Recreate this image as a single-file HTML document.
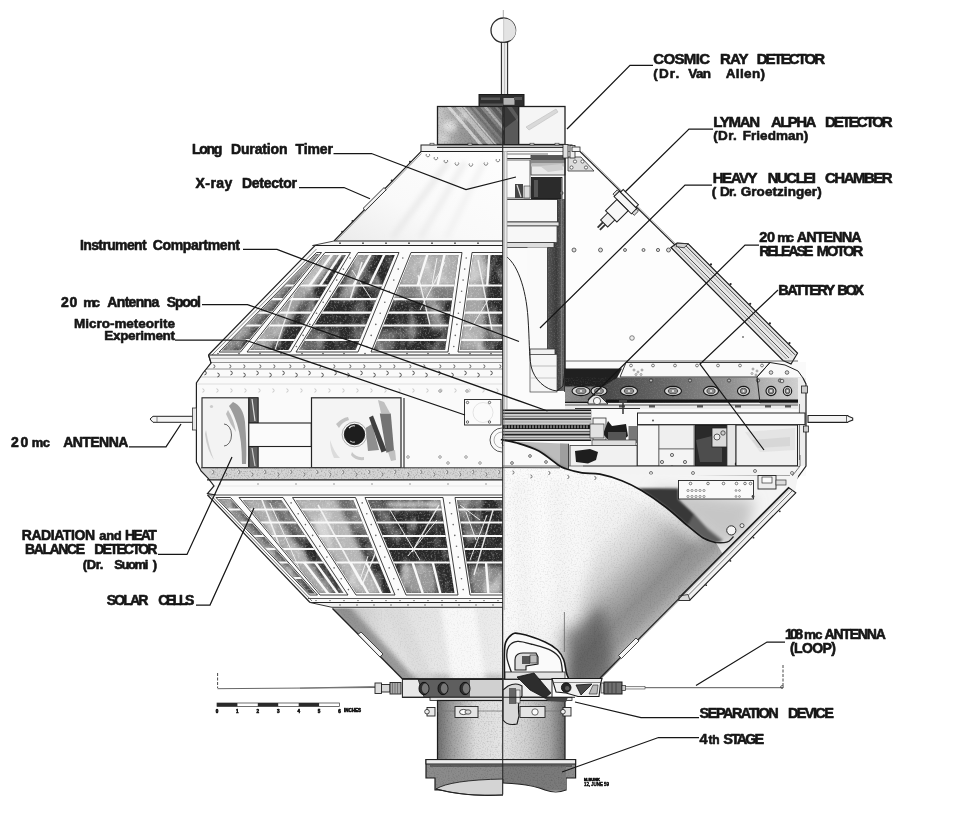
<!DOCTYPE html>
<html><head><meta charset="utf-8"><title>Explorer VII cutaway</title>
<style>
html,body{margin:0;padding:0;background:#fff;}
svg{display:block}
text{font-family:"Liberation Sans",sans-serif;font-weight:700;fill:#161616;stroke:#161616;stroke-width:.6px;stroke-linejoin:round}
</style></head><body>
<svg width="960" height="816" viewBox="0 0 960 816">
<rect width="960" height="816" fill="#fff"/>
<defs>
<linearGradient id="gBoxL" x1="0" y1="0" x2="1" y2="0"><stop offset="0" stop-color="#c9c9c9"/><stop offset="0.35" stop-color="#9a9a9a"/><stop offset="0.7" stop-color="#8a8a8a"/><stop offset="1" stop-color="#777"/></linearGradient>
<linearGradient id="gConeL" x1="0" y1="1" x2="1" y2="0"><stop offset="0" stop-color="#ebebeb"/><stop offset="0.4" stop-color="#f9f9f9"/><stop offset="1" stop-color="#fefefe"/></linearGradient>
<linearGradient id="gLowConeL" x1="0" y1="0" x2="1" y2="0"><stop offset="0" stop-color="#bdbdbd"/><stop offset="0.3" stop-color="#dedede"/><stop offset="0.6" stop-color="#e6e6e6"/><stop offset="1" stop-color="#ececec"/></linearGradient>
<linearGradient id="gSheet" gradientUnits="userSpaceOnUse" x1="560" y1="520" x2="680" y2="640"><stop offset="0" stop-color="#fafafa"/><stop offset="0.25" stop-color="#f0f0f0"/><stop offset="0.42" stop-color="#d2d2d2"/><stop offset="0.55" stop-color="#aaaaaa"/><stop offset="0.66" stop-color="#909090"/><stop offset="0.75" stop-color="#9a9a9a"/><stop offset="0.83" stop-color="#b8b8b8"/></linearGradient>
<linearGradient id="gStage" x1="0" y1="0" x2="1" y2="0"><stop offset="0" stop-color="#6e6e6e"/><stop offset="0.12" stop-color="#a0a0a0"/><stop offset="0.3" stop-color="#dcdcdc"/><stop offset="0.5" stop-color="#e4e4e4"/><stop offset="0.7" stop-color="#cfcfcf"/><stop offset="0.88" stop-color="#a6a6a6"/><stop offset="1" stop-color="#6a6a6a"/></linearGradient>
<linearGradient id="gBand" x1="0" y1="0" x2="1" y2="0"><stop offset="0" stop-color="#8a8a8a"/><stop offset="0.11" stop-color="#7a7a7a"/><stop offset="0.16" stop-color="#484848"/><stop offset="0.4" stop-color="#636363"/><stop offset="0.7" stop-color="#909090"/><stop offset="0.85" stop-color="#b4b4b4"/><stop offset="1" stop-color="#d4d4d4"/></linearGradient>
<linearGradient id="gBar" x1="0" y1="0" x2="1" y2="0"><stop offset="0" stop-color="#555"/><stop offset="0.5" stop-color="#3a3a3a"/><stop offset="1" stop-color="#6a6a6a"/></linearGradient>
<filter id="fTex" x="0" y="0" width="100%" height="100%"><feTurbulence type="fractalNoise" baseFrequency="0.06 0.035" numOctaves="3" seed="4" result="n"/><feColorMatrix in="n" type="matrix" values="0 0 0 0 1  0 0 0 0 1  0 0 0 0 1  3.2 0 0 0 -1.55" result="c"/><feComposite in="c" in2="SourceAlpha" operator="in"/></filter>
<filter id="fTex2" x="0" y="0" width="100%" height="100%"><feTurbulence type="fractalNoise" baseFrequency="0.55" numOctaves="2" seed="9" result="n"/><feColorMatrix in="n" type="matrix" values="0 0 0 0 1  0 0 0 0 1  0 0 0 0 1  3.0 0 0 0 -1.5" result="c"/><feComposite in="c" in2="SourceAlpha" operator="in"/></filter>
<filter id="fGrain" x="0" y="0" width="100%" height="100%"><feTurbulence type="fractalNoise" baseFrequency="0.7" numOctaves="2" seed="3" result="n"/><feColorMatrix in="n" type="matrix" values="0 0 0 0 0  0 0 0 0 0  0 0 0 0 0  1.5 0 0 0 -0.7" result="c"/><feComposite in="c" in2="SourceAlpha" operator="in"/></filter>
<filter id="fGrainW" x="0" y="0" width="100%" height="100%"><feTurbulence type="fractalNoise" baseFrequency="0.7" numOctaves="2" seed="5" result="n"/><feColorMatrix in="n" type="matrix" values="0 0 0 0 1  0 0 0 0 1  0 0 0 0 1  1.5 0 0 0 -0.7" result="c"/><feComposite in="c" in2="SourceAlpha" operator="in"/></filter>
<filter id="fBlur" x="-20%" y="-20%" width="140%" height="140%"><feGaussianBlur stdDeviation="7"/></filter>
<filter id="fBlur2" x="-20%" y="-20%" width="140%" height="140%"><feGaussianBlur stdDeviation="2.5"/></filter>
<filter id="fBlur3" x="-20%" y="-20%" width="140%" height="140%"><feGaussianBlur stdDeviation="0.9"/></filter>
</defs>
<clipPath id="cBoxL"><rect x="438" y="107" width="66" height="37.5"/></clipPath>
<line x1="503.3" y1="10.0" x2="503.3" y2="17.0" stroke="#999" stroke-width="0.8" />
<circle cx="503.3" cy="30.3" r="12.3" fill="#fbfbfb" stroke="#2a2a2a" stroke-width="1.3" />
<path d="M504,18.5 A12,12 0 0 1 511,40 L504,41 Z" fill="#e3e3e3" stroke="none" stroke-width="1" />
<line x1="503.6" y1="18.0" x2="503.6" y2="42.0" stroke="#aaa" stroke-width="0.6" />
<rect x="501.4" y="42.3" width="6.2" height="52.7" fill="#ececec" stroke="#2a2a2a" stroke-width="1.1" />
<line x1="504.6" y1="43.0" x2="504.6" y2="95.0" stroke="#bdbdbd" stroke-width="1" />
<rect x="479.0" y="94.5" width="45.0" height="12.0" fill="#2e2e2e" stroke="#1a1a1a" stroke-width="1" />
<rect x="481.0" y="97.5" width="19.0" height="2.5" fill="#5a5a5a" stroke="none" stroke-width="1" />
<rect x="503.5" y="98.0" width="11.0" height="6.8" fill="#b5b5b5" stroke="none" stroke-width="1" />
<rect x="480.0" y="103.5" width="23.0" height="2.5" fill="#555" stroke="none" stroke-width="1" />
<rect x="514.0" y="97.0" width="8.0" height="3.0" fill="#555" stroke="none" stroke-width="1" />
<rect x="437.5" y="106.5" width="66.5" height="38.0" fill="url(#gBoxL)" stroke="#1f1f1f" stroke-width="1.3" />
<g clip-path="url(#cBoxL)">
<polygon points="446.0,106.0 450.0,106.0 484.0,146.0 480.0,146.0" fill="#e8e8e8" stroke="none" stroke-width="1" opacity="0.7"/>
<polygon points="455.0,106.0 461.0,106.0 495.0,146.0 489.0,146.0" fill="#dedede" stroke="none" stroke-width="1" opacity="0.6"/>
<polygon points="468.0,106.0 471.0,106.0 505.0,146.0 502.0,146.0" fill="#6a6a6a" stroke="none" stroke-width="1" opacity="0.7"/>
<polygon points="474.0,106.0 479.0,106.0 513.0,146.0 508.0,146.0" fill="#5c5c5c" stroke="none" stroke-width="1" opacity="0.8"/>
<polygon points="483.0,106.0 486.0,106.0 520.0,146.0 517.0,146.0" fill="#dcdcdc" stroke="none" stroke-width="1" opacity="0.5"/>
<polygon points="489.0,106.0 494.0,106.0 528.0,146.0 523.0,146.0" fill="#555" stroke="none" stroke-width="1" opacity="0.8"/>
<polygon points="497.0,106.0 501.0,106.0 535.0,146.0 531.0,146.0" fill="#4a4a4a" stroke="none" stroke-width="1" opacity="0.8"/>
<polygon points="462.0,106.0 464.0,106.0 498.0,146.0 496.0,146.0" fill="#eee" stroke="none" stroke-width="1" opacity="0.6"/>
</g>
<g clip-path="url(#cBoxL)"><g filter="url(#fBlur2)">
<ellipse cx="450.0" cy="126.0" rx="7.0" ry="6.0" fill="#f2f2f2" stroke="none" stroke-width="1" opacity=".7"/>
<ellipse cx="462.0" cy="117.0" rx="5.0" ry="4.0" fill="#eee" stroke="none" stroke-width="1" opacity=".6"/>
<ellipse cx="444.0" cy="138.0" rx="5.0" ry="4.0" fill="#e6e6e6" stroke="none" stroke-width="1" opacity=".6"/>
</g></g>
<rect x="438" y="107" width="66" height="37.5" fill="#000" filter="url(#fGrain)" opacity=".22"/>
<rect x="504.0" y="106.5" width="14.7" height="38.0" fill="#3a3a3a" stroke="#1f1f1f" stroke-width="1" />
<polygon points="505.0,128.0 518.0,118.0 518.0,144.0 505.0,144.0" fill="#666" stroke="none" stroke-width="1" opacity=".7"/>
<polygon points="507.0,107.0 512.0,107.0 518.0,116.0 518.0,122.0" fill="#707070" stroke="none" stroke-width="1" opacity=".6"/>
<rect x="518.7" y="106.5" width="46.3" height="38.0" fill="#f5f5f5" stroke="#1f1f1f" stroke-width="1.3" />
<polygon points="526.0,127.0 556.0,109.0 558.0,112.0 529.0,130.0" fill="#d9d9d9" stroke="#bdbdbd" stroke-width="0.6" />
<rect x="421.0" y="145.0" width="151.0" height="6.5" fill="#f0f0f0" stroke="#222" stroke-width="1" />
<line x1="437.0" y1="147.3" x2="565.0" y2="147.3" stroke="#333" stroke-width="1.2" />
<rect x="430.0" y="143.2" width="4.0" height="1.8" fill="#ddd" stroke="#333" stroke-width="0.6" />
<rect x="468.0" y="143.2" width="4.0" height="1.8" fill="#ddd" stroke="#333" stroke-width="0.6" />
<rect x="530.0" y="143.2" width="4.0" height="1.8" fill="#ddd" stroke="#333" stroke-width="0.6" />
<rect x="555.0" y="143.2" width="4.0" height="1.8" fill="#ddd" stroke="#333" stroke-width="0.6" />
<polygon points="421.0,151.5 503.0,151.5 503.0,241.0 334.0,241.0" fill="url(#gConeL)" stroke="none" stroke-width="1" />
<g filter="url(#fBlur2)">
<line x1="465.0" y1="162.0" x2="420.0" y2="238.0" stroke="#ececec" stroke-width="6" opacity=".8"/>
<line x1="484.0" y1="162.0" x2="446.0" y2="238.0" stroke="#f0f0f0" stroke-width="6" opacity=".8"/>
<line x1="448.0" y1="162.0" x2="392.0" y2="238.0" stroke="#e8e8e8" stroke-width="6" opacity=".8"/>
</g>
<polyline points="503.0,151.5 421.0,151.5 334.0,241.0" fill="none" stroke="#222" stroke-width="1.2" />
<line x1="421.5" y1="153.5" x2="336.0" y2="241.0" stroke="#777" stroke-width="0.7" />
<path d="M426.4,154 a1.8,1.8 0 1 0 3,0" fill="none" stroke="#666" stroke-width="0.8" />
<path d="M434.4,157 a1.8,1.8 0 1 0 3,0" fill="none" stroke="#666" stroke-width="0.8" />
<path d="M444.4,160 a1.8,1.8 0 1 0 3,0" fill="none" stroke="#666" stroke-width="0.8" />
<path d="M455.4,162.5 a1.8,1.8 0 1 0 3,0" fill="none" stroke="#666" stroke-width="0.8" />
<path d="M469.4,163.5 a1.8,1.8 0 1 0 3,0" fill="none" stroke="#666" stroke-width="0.8" />
<path d="M484.4,162.5 a1.8,1.8 0 1 0 3,0" fill="none" stroke="#666" stroke-width="0.8" />
<path d="M496.4,159 a1.8,1.8 0 1 0 3,0" fill="none" stroke="#666" stroke-width="0.8" />
<polygon points="363.0,208.5 384.0,187.6 386.3,189.7 365.3,210.6" fill="#f4f4f4" stroke="#222" stroke-width="0.9" />
<circle cx="410.1" cy="161.9" r="1.1" fill="#333" stroke="none" stroke-width="1" />
<circle cx="391.8" cy="180.7" r="1.1" fill="#333" stroke="none" stroke-width="1" />
<circle cx="352.6" cy="221.0" r="1.1" fill="#333" stroke="none" stroke-width="1" />
<circle cx="342.2" cy="231.8" r="1.1" fill="#333" stroke="none" stroke-width="1" />
<polygon points="334.0,241.0 503.0,241.0 503.0,251.5 308.0,251.5 312.5,245.5" fill="#f7f7f7" stroke="none" stroke-width="1" />
<line x1="334.0" y1="241.0" x2="503.0" y2="241.0" stroke="#222" stroke-width="1.1" />
<polyline points="334.0,241.0 312.5,245.5 503.0,245.5" fill="none" stroke="#333" stroke-width="0.9" />
<circle cx="340.0" cy="243.2" r="0.9" fill="#444" stroke="none" stroke-width="1" />
<circle cx="363.0" cy="243.2" r="0.9" fill="#444" stroke="none" stroke-width="1" />
<circle cx="386.0" cy="243.2" r="0.9" fill="#444" stroke="none" stroke-width="1" />
<circle cx="409.0" cy="243.2" r="0.9" fill="#444" stroke="none" stroke-width="1" />
<circle cx="432.0" cy="243.2" r="0.9" fill="#444" stroke="none" stroke-width="1" />
<circle cx="455.0" cy="243.2" r="0.9" fill="#444" stroke="none" stroke-width="1" />
<circle cx="478.0" cy="243.2" r="0.9" fill="#444" stroke="none" stroke-width="1" />
<circle cx="322.0" cy="248.6" r="0.7" fill="#888" stroke="none" stroke-width="1" />
<circle cx="341.0" cy="248.6" r="0.7" fill="#888" stroke="none" stroke-width="1" />
<circle cx="360.0" cy="248.6" r="0.7" fill="#888" stroke="none" stroke-width="1" />
<circle cx="379.0" cy="248.6" r="0.7" fill="#888" stroke="none" stroke-width="1" />
<circle cx="398.0" cy="248.6" r="0.7" fill="#888" stroke="none" stroke-width="1" />
<circle cx="417.0" cy="248.6" r="0.7" fill="#888" stroke="none" stroke-width="1" />
<circle cx="436.0" cy="248.6" r="0.7" fill="#888" stroke="none" stroke-width="1" />
<circle cx="455.0" cy="248.6" r="0.7" fill="#888" stroke="none" stroke-width="1" />
<circle cx="474.0" cy="248.6" r="0.7" fill="#888" stroke="none" stroke-width="1" />
<circle cx="493.0" cy="248.6" r="0.7" fill="#888" stroke="none" stroke-width="1" />
<polygon points="315.0,245.5 503.0,245.5 503.0,355.0 208.5,355.0" fill="#fbfbfb" stroke="none" stroke-width="1" />
<polygon points="316.5,252.5 321.5,252.5 240.5,352.0 219.0,352.0" fill="#fbfbfb" stroke="#2a2a2a" stroke-width="0.9" />
<clipPath id="sp1"><polygon points="316.2,254.0 318.9,254.0 240.3,350.5 221.7,350.5"/></clipPath>
<g clip-path="url(#sp1)">
<rect x="217.0" y="251.5" width="106.5" height="101.5" fill="#3a3a3a" stroke="none" stroke-width="1" />
<g filter="url(#fBlur2)">
<polygon points="300.0,252.0 322.0,252.0 232.0,352.0 219.0,352.0" fill="#c8c8c8" stroke="none" stroke-width="1" opacity="0.5700000000000001"/>
</g>
<rect x="217.0" y="251.5" width="106.5" height="101.5" fill="#fff" stroke="none" stroke-width="1" filter="url(#fTex)" opacity=".42"/>
<rect x="217.0" y="251.5" width="106.5" height="101.5" fill="#fff" stroke="none" stroke-width="1" filter="url(#fTex2)" opacity=".32"/>
<line x1="217.0" y1="285.5" x2="323.5" y2="285.5" stroke="#f8f8f8" stroke-width="2.2" />
<line x1="217.0" y1="299.2" x2="323.5" y2="299.2" stroke="#f8f8f8" stroke-width="2.2" />
<line x1="217.0" y1="312.6" x2="323.5" y2="312.6" stroke="#f8f8f8" stroke-width="2.2" />
<line x1="217.0" y1="325.5" x2="323.5" y2="325.5" stroke="#f8f8f8" stroke-width="2.2" />
<line x1="217.0" y1="340.0" x2="323.5" y2="340.0" stroke="#f8f8f8" stroke-width="2.2" />
</g>
<polygon points="325.0,252.5 350.5,252.5 290.5,352.0 247.0,352.0" fill="#fbfbfb" stroke="#2a2a2a" stroke-width="0.9" />
<clipPath id="sp2"><polygon points="324.7,254.9 345.9,254.9 288.5,350.0 250.2,350.0"/></clipPath>
<g clip-path="url(#sp2)">
<rect x="245.0" y="251.5" width="107.5" height="101.5" fill="#292929" stroke="none" stroke-width="1" />
<g filter="url(#fBlur2)">
<polygon points="322.0,252.0 338.0,252.0 268.0,352.0 246.0,352.0" fill="#d0d0d0" stroke="none" stroke-width="1" opacity="0.72"/>
<polygon points="330.0,252.0 345.0,252.0 318.0,285.0 300.0,285.0" fill="#ccc" stroke="none" stroke-width="1" opacity="0.62"/>
</g>
<rect x="245.0" y="251.5" width="107.5" height="101.5" fill="#fff" stroke="none" stroke-width="1" filter="url(#fTex)" opacity=".42"/>
<rect x="245.0" y="251.5" width="107.5" height="101.5" fill="#fff" stroke="none" stroke-width="1" filter="url(#fTex2)" opacity=".32"/>
<line x1="300.0" y1="275.0" x2="275.0" y2="350.0" stroke="#f6f6f6" stroke-width="1.2" opacity=".9"/>
<line x1="310.0" y1="262.0" x2="286.0" y2="300.0" stroke="#f6f6f6" stroke-width="1.0" opacity=".9"/>
<line x1="245.0" y1="285.5" x2="352.5" y2="285.5" stroke="#f8f8f8" stroke-width="2.2" />
<line x1="245.0" y1="299.2" x2="352.5" y2="299.2" stroke="#f8f8f8" stroke-width="2.2" />
<line x1="245.0" y1="312.6" x2="352.5" y2="312.6" stroke="#f8f8f8" stroke-width="2.2" />
<line x1="245.0" y1="325.5" x2="352.5" y2="325.5" stroke="#f8f8f8" stroke-width="2.2" />
<line x1="245.0" y1="340.0" x2="352.5" y2="340.0" stroke="#f8f8f8" stroke-width="2.2" />
<line x1="333.5" y1="252.5" x2="309.6" y2="285.5" stroke="#f8f8f8" stroke-width="2.4000000000000004" />
<line x1="342.0" y1="252.5" x2="320.1" y2="285.5" stroke="#f8f8f8" stroke-width="2.4000000000000004" />
</g>
<polygon points="358.0,252.5 399.0,252.5 358.0,352.0 296.0,352.0" fill="#fbfbfb" stroke="#2a2a2a" stroke-width="0.9" />
<clipPath id="sp3"><polygon points="358.1,254.9 394.8,254.9 355.6,350.0 298.8,350.0"/></clipPath>
<g clip-path="url(#sp3)">
<rect x="294.0" y="251.5" width="107.0" height="101.5" fill="#292929" stroke="none" stroke-width="1" />
<g filter="url(#fBlur2)">
<polygon points="356.0,252.0 374.0,252.0 352.0,300.0 338.0,300.0" fill="#c4c4c4" stroke="none" stroke-width="1" opacity="0.72"/>
<polygon points="300.0,330.0 330.0,330.0 320.0,352.0 296.0,352.0" fill="#aaa" stroke="none" stroke-width="1" opacity="0.47"/>
</g>
<rect x="294.0" y="251.5" width="107.0" height="101.5" fill="#fff" stroke="none" stroke-width="1" filter="url(#fTex)" opacity=".42"/>
<rect x="294.0" y="251.5" width="107.0" height="101.5" fill="#fff" stroke="none" stroke-width="1" filter="url(#fTex2)" opacity=".32"/>
<line x1="362.0" y1="262.0" x2="350.0" y2="300.0" stroke="#f6f6f6" stroke-width="1.5" opacity=".9"/>
<line x1="352.0" y1="270.0" x2="372.0" y2="300.0" stroke="#f6f6f6" stroke-width="1.0" opacity=".9"/>
<line x1="294.0" y1="285.5" x2="401.0" y2="285.5" stroke="#f8f8f8" stroke-width="2.2" />
<line x1="294.0" y1="299.2" x2="401.0" y2="299.2" stroke="#f8f8f8" stroke-width="2.2" />
<line x1="294.0" y1="312.6" x2="401.0" y2="312.6" stroke="#f8f8f8" stroke-width="2.2" />
<line x1="294.0" y1="325.5" x2="401.0" y2="325.5" stroke="#f8f8f8" stroke-width="2.2" />
<line x1="294.0" y1="340.0" x2="401.0" y2="340.0" stroke="#f8f8f8" stroke-width="2.2" />
<line x1="371.7" y1="252.5" x2="353.4" y2="285.5" stroke="#f8f8f8" stroke-width="2.4000000000000004" />
<line x1="385.3" y1="252.5" x2="369.4" y2="285.5" stroke="#f8f8f8" stroke-width="2.4000000000000004" />
</g>
<polygon points="411.0,252.5 462.0,252.5 448.0,352.0 371.0,352.0" fill="#fbfbfb" stroke="#2a2a2a" stroke-width="0.9" />
<clipPath id="sp4"><polygon points="411.6,254.9 458.5,254.9 445.1,350.0 373.4,350.0"/></clipPath>
<g clip-path="url(#sp4)">
<rect x="369.0" y="251.5" width="95.0" height="101.5" fill="#292929" stroke="none" stroke-width="1" />
<g filter="url(#fBlur2)">
<polygon points="400.0,252.0 462.0,252.0 458.0,286.0 398.0,286.0" fill="#dcdcdc" stroke="none" stroke-width="1" opacity="0.74"/>
<polygon points="394.0,286.0 458.0,286.0 456.0,300.0 388.0,300.0" fill="#bdbdbd" stroke="none" stroke-width="1" opacity="0.5700000000000001"/>
<polygon points="420.0,286.0 430.0,286.0 445.0,330.0 432.0,330.0" fill="#ccc" stroke="none" stroke-width="1" opacity="0.62"/>
<polygon points="380.0,330.0 400.0,330.0 392.0,352.0 372.0,352.0" fill="#aaa" stroke="none" stroke-width="1" opacity="0.52"/>
</g>
<rect x="369.0" y="251.5" width="95.0" height="101.5" fill="#fff" stroke="none" stroke-width="1" filter="url(#fTex)" opacity=".42"/>
<rect x="369.0" y="251.5" width="95.0" height="101.5" fill="#fff" stroke="none" stroke-width="1" filter="url(#fTex2)" opacity=".32"/>
<line x1="418.0" y1="275.0" x2="430.0" y2="325.0" stroke="#f6f6f6" stroke-width="1.3" opacity=".9"/>
<line x1="445.0" y1="262.0" x2="420.0" y2="310.0" stroke="#f6f6f6" stroke-width="1.0" opacity=".9"/>
<line x1="437.0" y1="258.0" x2="432.0" y2="285.0" stroke="#f6f6f6" stroke-width="1.0" opacity=".9"/>
<line x1="369.0" y1="285.5" x2="464.0" y2="285.5" stroke="#f8f8f8" stroke-width="2.2" />
<line x1="369.0" y1="299.2" x2="464.0" y2="299.2" stroke="#f8f8f8" stroke-width="2.2" />
<line x1="369.0" y1="312.6" x2="464.0" y2="312.6" stroke="#f8f8f8" stroke-width="2.2" />
<line x1="369.0" y1="325.5" x2="464.0" y2="325.5" stroke="#f8f8f8" stroke-width="2.2" />
<line x1="369.0" y1="340.0" x2="464.0" y2="340.0" stroke="#f8f8f8" stroke-width="2.2" />
<line x1="428.0" y1="252.5" x2="417.6" y2="285.5" stroke="#f8f8f8" stroke-width="2.4000000000000004" />
<line x1="445.0" y1="252.5" x2="437.5" y2="285.5" stroke="#f8f8f8" stroke-width="2.4000000000000004" />
</g>
<polygon points="472.0,252.5 507.0,252.5 507.0,352.0 458.0,352.0" fill="#fbfbfb" stroke="#2a2a2a" stroke-width="0.9" />
<clipPath id="sp5"><polygon points="473.3,254.9 507.0,254.9 507.0,350.0 459.9,350.0"/></clipPath>
<g clip-path="url(#sp5)">
<rect x="456.0" y="251.5" width="53.0" height="101.5" fill="#292929" stroke="none" stroke-width="1" />
<g filter="url(#fBlur2)">
<polygon points="470.0,252.0 488.0,252.0 484.0,352.0 458.0,352.0" fill="#d6d6d6" stroke="none" stroke-width="1" opacity="0.72"/>
<polygon points="462.0,326.0 503.0,326.0 503.0,340.0 460.0,340.0" fill="#bbb" stroke="none" stroke-width="1" opacity="0.47"/>
</g>
<rect x="456.0" y="251.5" width="53.0" height="101.5" fill="#fff" stroke="none" stroke-width="1" filter="url(#fTex)" opacity=".42"/>
<rect x="456.0" y="251.5" width="53.0" height="101.5" fill="#fff" stroke="none" stroke-width="1" filter="url(#fTex2)" opacity=".32"/>
<line x1="478.0" y1="260.0" x2="492.0" y2="330.0" stroke="#f6f6f6" stroke-width="1.3" opacity=".9"/>
<line x1="470.0" y1="330.0" x2="488.0" y2="300.0" stroke="#f6f6f6" stroke-width="1.0" opacity=".9"/>
<line x1="456.0" y1="285.5" x2="509.0" y2="285.5" stroke="#f8f8f8" stroke-width="2.2" />
<line x1="456.0" y1="299.2" x2="509.0" y2="299.2" stroke="#f8f8f8" stroke-width="2.2" />
<line x1="456.0" y1="312.6" x2="509.0" y2="312.6" stroke="#f8f8f8" stroke-width="2.2" />
<line x1="456.0" y1="325.5" x2="509.0" y2="325.5" stroke="#f8f8f8" stroke-width="2.2" />
<line x1="456.0" y1="340.0" x2="509.0" y2="340.0" stroke="#f8f8f8" stroke-width="2.2" />
<line x1="489.5" y1="252.5" x2="487.2" y2="285.5" stroke="#f8f8f8" stroke-width="2.4000000000000004" />
</g>
<polyline points="503.0,245.5 315.0,245.5 208.5,355.0" fill="none" stroke="#222" stroke-width="1.2" />
<line x1="316.5" y1="249.0" x2="212.0" y2="355.0" stroke="#555" stroke-width="0.7" />
<circle cx="350.1" cy="258.0" r="0.8" fill="#666" stroke="none" stroke-width="1" />
<circle cx="343.4" cy="269.1" r="0.8" fill="#666" stroke="none" stroke-width="1" />
<circle cx="336.7" cy="280.1" r="0.8" fill="#666" stroke="none" stroke-width="1" />
<circle cx="330.0" cy="291.2" r="0.8" fill="#666" stroke="none" stroke-width="1" />
<circle cx="323.2" cy="302.2" r="0.8" fill="#666" stroke="none" stroke-width="1" />
<circle cx="316.5" cy="313.3" r="0.8" fill="#666" stroke="none" stroke-width="1" />
<circle cx="309.8" cy="324.4" r="0.8" fill="#666" stroke="none" stroke-width="1" />
<circle cx="303.1" cy="335.4" r="0.8" fill="#666" stroke="none" stroke-width="1" />
<circle cx="296.4" cy="346.5" r="0.8" fill="#666" stroke="none" stroke-width="1" />
<circle cx="402.8" cy="258.0" r="0.8" fill="#666" stroke="none" stroke-width="1" />
<circle cx="398.2" cy="269.1" r="0.8" fill="#666" stroke="none" stroke-width="1" />
<circle cx="393.8" cy="280.1" r="0.8" fill="#666" stroke="none" stroke-width="1" />
<circle cx="389.2" cy="291.2" r="0.8" fill="#666" stroke="none" stroke-width="1" />
<circle cx="384.8" cy="302.2" r="0.8" fill="#666" stroke="none" stroke-width="1" />
<circle cx="380.2" cy="313.3" r="0.8" fill="#666" stroke="none" stroke-width="1" />
<circle cx="375.8" cy="324.4" r="0.8" fill="#666" stroke="none" stroke-width="1" />
<circle cx="371.2" cy="335.4" r="0.8" fill="#666" stroke="none" stroke-width="1" />
<circle cx="366.8" cy="346.5" r="0.8" fill="#666" stroke="none" stroke-width="1" />
<circle cx="466.2" cy="258.0" r="0.8" fill="#666" stroke="none" stroke-width="1" />
<circle cx="464.7" cy="269.1" r="0.8" fill="#666" stroke="none" stroke-width="1" />
<circle cx="463.1" cy="280.1" r="0.8" fill="#666" stroke="none" stroke-width="1" />
<circle cx="461.6" cy="291.2" r="0.8" fill="#666" stroke="none" stroke-width="1" />
<circle cx="460.0" cy="302.2" r="0.8" fill="#666" stroke="none" stroke-width="1" />
<circle cx="458.4" cy="313.3" r="0.8" fill="#666" stroke="none" stroke-width="1" />
<circle cx="456.9" cy="324.4" r="0.8" fill="#666" stroke="none" stroke-width="1" />
<circle cx="455.3" cy="335.4" r="0.8" fill="#666" stroke="none" stroke-width="1" />
<circle cx="453.8" cy="346.5" r="0.8" fill="#666" stroke="none" stroke-width="1" />
<polygon points="208.5,355.0 503.0,355.0 503.0,363.0 211.0,363.0" fill="#f4f4f4" stroke="none" stroke-width="1" />
<line x1="208.5" y1="355.0" x2="503.0" y2="355.0" stroke="#222" stroke-width="1.1" />
<line x1="210.0" y1="358.3" x2="503.0" y2="358.3" stroke="#888" stroke-width="0.7" />
<line x1="211.0" y1="363.0" x2="503.0" y2="363.0" stroke="#333" stroke-width="1" />
<polyline points="208.5,355.0 211.0,363.0" fill="none" stroke="#222" stroke-width="1" />
<circle cx="218.0" cy="353.6" r="0.8" fill="#555" stroke="none" stroke-width="1" />
<circle cx="239.0" cy="353.6" r="0.8" fill="#555" stroke="none" stroke-width="1" />
<circle cx="260.0" cy="353.6" r="0.8" fill="#555" stroke="none" stroke-width="1" />
<circle cx="281.0" cy="353.6" r="0.8" fill="#555" stroke="none" stroke-width="1" />
<circle cx="302.0" cy="353.6" r="0.8" fill="#555" stroke="none" stroke-width="1" />
<circle cx="323.0" cy="353.6" r="0.8" fill="#555" stroke="none" stroke-width="1" />
<circle cx="344.0" cy="353.6" r="0.8" fill="#555" stroke="none" stroke-width="1" />
<circle cx="365.0" cy="353.6" r="0.8" fill="#555" stroke="none" stroke-width="1" />
<circle cx="386.0" cy="353.6" r="0.8" fill="#555" stroke="none" stroke-width="1" />
<circle cx="407.0" cy="353.6" r="0.8" fill="#555" stroke="none" stroke-width="1" />
<circle cx="428.0" cy="353.6" r="0.8" fill="#555" stroke="none" stroke-width="1" />
<circle cx="449.0" cy="353.6" r="0.8" fill="#555" stroke="none" stroke-width="1" />
<circle cx="470.0" cy="353.6" r="0.8" fill="#555" stroke="none" stroke-width="1" />
<circle cx="491.0" cy="353.6" r="0.8" fill="#555" stroke="none" stroke-width="1" />
<polygon points="211.0,363.0 503.0,363.0 503.0,493.5 207.5,493.5 214.0,486.0 208.4,478.7 201.0,471.0 196.4,462.0 196.4,383.0 203.0,373.0" fill="#fafafa" stroke="none" stroke-width="1" />
<line x1="206.0" y1="369.0" x2="503.0" y2="369.0" stroke="#777" stroke-width="0.8" />
<line x1="200.0" y1="377.0" x2="503.0" y2="377.0" stroke="#aaa" stroke-width="0.6" />
<line x1="197.0" y1="384.0" x2="503.0" y2="384.0" stroke="#ccc" stroke-width="0.6" />
<path d="M213.4,364.8 a1.5,1.5 0 0 1 0,3.0" fill="none" stroke="#444" stroke-width="0.8" />
<path d="M229.4,364.8 a1.5,1.5 0 0 1 0,3.0" fill="none" stroke="#444" stroke-width="0.8" />
<path d="M243.4,364.8 a1.5,1.5 0 0 1 0,3.0" fill="none" stroke="#444" stroke-width="0.8" />
<path d="M259.4,364.8 a1.5,1.5 0 0 1 0,3.0" fill="none" stroke="#444" stroke-width="0.8" />
<path d="M273.4,364.8 a1.5,1.5 0 0 1 0,3.0" fill="none" stroke="#444" stroke-width="0.8" />
<path d="M289.4,364.8 a1.5,1.5 0 0 1 0,3.0" fill="none" stroke="#444" stroke-width="0.8" />
<path d="M303.4,364.8 a1.5,1.5 0 0 1 0,3.0" fill="none" stroke="#444" stroke-width="0.8" />
<path d="M319.4,364.8 a1.5,1.5 0 0 1 0,3.0" fill="none" stroke="#444" stroke-width="0.8" />
<path d="M333.4,364.8 a1.5,1.5 0 0 1 0,3.0" fill="none" stroke="#444" stroke-width="0.8" />
<path d="M349.4,364.8 a1.5,1.5 0 0 1 0,3.0" fill="none" stroke="#444" stroke-width="0.8" />
<path d="M363.4,364.8 a1.5,1.5 0 0 1 0,3.0" fill="none" stroke="#444" stroke-width="0.8" />
<path d="M379.4,364.8 a1.5,1.5 0 0 1 0,3.0" fill="none" stroke="#444" stroke-width="0.8" />
<path d="M393.4,364.8 a1.5,1.5 0 0 1 0,3.0" fill="none" stroke="#444" stroke-width="0.8" />
<path d="M409.4,364.8 a1.5,1.5 0 0 1 0,3.0" fill="none" stroke="#444" stroke-width="0.8" />
<path d="M423.4,364.8 a1.5,1.5 0 0 1 0,3.0" fill="none" stroke="#444" stroke-width="0.8" />
<path d="M439.4,364.8 a1.5,1.5 0 0 1 0,3.0" fill="none" stroke="#444" stroke-width="0.8" />
<path d="M453.4,364.8 a1.5,1.5 0 0 1 0,3.0" fill="none" stroke="#444" stroke-width="0.8" />
<path d="M469.4,364.8 a1.5,1.5 0 0 1 0,3.0" fill="none" stroke="#444" stroke-width="0.8" />
<path d="M483.4,364.8 a1.5,1.5 0 0 1 0,3.0" fill="none" stroke="#444" stroke-width="0.8" />
<path d="M499.4,364.8 a1.5,1.5 0 0 1 0,3.0" fill="none" stroke="#444" stroke-width="0.8" />
<path d="M204.4,371.1 a1.9,1.9 0 0 1 0,3.8" fill="none" stroke="#444" stroke-width="0.9" />
<path d="M217.4,373.1 a1.9,1.9 0 0 1 0,3.8" fill="none" stroke="#444" stroke-width="0.9" />
<path d="M230.4,371.1 a1.9,1.9 0 0 1 0,3.8" fill="none" stroke="#444" stroke-width="0.9" />
<path d="M243.4,373.1 a1.9,1.9 0 0 1 0,3.8" fill="none" stroke="#444" stroke-width="0.9" />
<path d="M256.4,371.1 a1.9,1.9 0 0 1 0,3.8" fill="none" stroke="#444" stroke-width="0.9" />
<path d="M269.4,373.1 a1.9,1.9 0 0 1 0,3.8" fill="none" stroke="#444" stroke-width="0.9" />
<path d="M282.4,371.1 a1.9,1.9 0 0 1 0,3.8" fill="none" stroke="#444" stroke-width="0.9" />
<path d="M295.4,373.1 a1.9,1.9 0 0 1 0,3.8" fill="none" stroke="#444" stroke-width="0.9" />
<path d="M308.4,371.1 a1.9,1.9 0 0 1 0,3.8" fill="none" stroke="#444" stroke-width="0.9" />
<path d="M321.4,373.1 a1.9,1.9 0 0 1 0,3.8" fill="none" stroke="#444" stroke-width="0.9" />
<path d="M334.4,371.1 a1.9,1.9 0 0 1 0,3.8" fill="none" stroke="#444" stroke-width="0.9" />
<path d="M347.4,373.1 a1.9,1.9 0 0 1 0,3.8" fill="none" stroke="#444" stroke-width="0.9" />
<path d="M360.4,371.1 a1.9,1.9 0 0 1 0,3.8" fill="none" stroke="#444" stroke-width="0.9" />
<path d="M373.4,373.1 a1.9,1.9 0 0 1 0,3.8" fill="none" stroke="#444" stroke-width="0.9" />
<path d="M386.4,371.1 a1.9,1.9 0 0 1 0,3.8" fill="none" stroke="#444" stroke-width="0.9" />
<path d="M399.4,373.1 a1.9,1.9 0 0 1 0,3.8" fill="none" stroke="#444" stroke-width="0.9" />
<path d="M412.4,371.1 a1.9,1.9 0 0 1 0,3.8" fill="none" stroke="#444" stroke-width="0.9" />
<path d="M425.4,373.1 a1.9,1.9 0 0 1 0,3.8" fill="none" stroke="#444" stroke-width="0.9" />
<path d="M438.4,371.1 a1.9,1.9 0 0 1 0,3.8" fill="none" stroke="#444" stroke-width="0.9" />
<path d="M451.4,373.1 a1.9,1.9 0 0 1 0,3.8" fill="none" stroke="#444" stroke-width="0.9" />
<path d="M464.4,371.1 a1.9,1.9 0 0 1 0,3.8" fill="none" stroke="#444" stroke-width="0.9" />
<path d="M477.4,373.1 a1.9,1.9 0 0 1 0,3.8" fill="none" stroke="#444" stroke-width="0.9" />
<path d="M490.4,371.1 a1.9,1.9 0 0 1 0,3.8" fill="none" stroke="#444" stroke-width="0.9" />
<path d="M202.4,388.8 a1.7,1.7 0 0 1 0,3.4" fill="none" stroke="#bbb" stroke-width="0.8" />
<path d="M216.4,388.8 a1.7,1.7 0 0 1 0,3.4" fill="none" stroke="#bbb" stroke-width="0.8" />
<path d="M230.4,388.8 a1.7,1.7 0 0 1 0,3.4" fill="none" stroke="#bbb" stroke-width="0.8" />
<path d="M244.4,388.8 a1.7,1.7 0 0 1 0,3.4" fill="none" stroke="#bbb" stroke-width="0.8" />
<path d="M258.4,388.8 a1.7,1.7 0 0 1 0,3.4" fill="none" stroke="#bbb" stroke-width="0.8" />
<path d="M272.4,388.8 a1.7,1.7 0 0 1 0,3.4" fill="none" stroke="#bbb" stroke-width="0.8" />
<path d="M286.4,388.8 a1.7,1.7 0 0 1 0,3.4" fill="none" stroke="#bbb" stroke-width="0.8" />
<path d="M300.4,388.8 a1.7,1.7 0 0 1 0,3.4" fill="none" stroke="#bbb" stroke-width="0.8" />
<path d="M314.4,388.8 a1.7,1.7 0 0 1 0,3.4" fill="none" stroke="#bbb" stroke-width="0.8" />
<path d="M328.4,388.8 a1.7,1.7 0 0 1 0,3.4" fill="none" stroke="#bbb" stroke-width="0.8" />
<path d="M342.4,388.8 a1.7,1.7 0 0 1 0,3.4" fill="none" stroke="#bbb" stroke-width="0.8" />
<path d="M356.4,388.8 a1.7,1.7 0 0 1 0,3.4" fill="none" stroke="#bbb" stroke-width="0.8" />
<path d="M370.4,388.8 a1.7,1.7 0 0 1 0,3.4" fill="none" stroke="#bbb" stroke-width="0.8" />
<path d="M384.4,388.8 a1.7,1.7 0 0 1 0,3.4" fill="none" stroke="#bbb" stroke-width="0.8" />
<path d="M398.4,388.8 a1.7,1.7 0 0 1 0,3.4" fill="none" stroke="#bbb" stroke-width="0.8" />
<path d="M412.4,388.8 a1.7,1.7 0 0 1 0,3.4" fill="none" stroke="#bbb" stroke-width="0.8" />
<path d="M426.4,388.8 a1.7,1.7 0 0 1 0,3.4" fill="none" stroke="#bbb" stroke-width="0.8" />
<path d="M440.4,388.8 a1.7,1.7 0 0 1 0,3.4" fill="none" stroke="#bbb" stroke-width="0.8" />
<path d="M454.4,388.8 a1.7,1.7 0 0 1 0,3.4" fill="none" stroke="#bbb" stroke-width="0.8" />
<path d="M468.4,388.8 a1.7,1.7 0 0 1 0,3.4" fill="none" stroke="#bbb" stroke-width="0.8" />
<path d="M482.4,388.8 a1.7,1.7 0 0 1 0,3.4" fill="none" stroke="#bbb" stroke-width="0.8" />
<path d="M496.4,388.8 a1.7,1.7 0 0 1 0,3.4" fill="none" stroke="#bbb" stroke-width="0.8" />
<rect x="202.0" y="397.8" width="56.0" height="69.8" fill="#f3f3f3" stroke="#222" stroke-width="1.1" />
<rect x="248.8" y="397.8" width="9.2" height="25.0" fill="#5a5a5a" stroke="#222" stroke-width="0.8" />
<rect x="248.8" y="446.5" width="9.2" height="21.1" fill="#606060" stroke="#222" stroke-width="0.8" />
<line x1="252.0" y1="399.0" x2="255.0" y2="421.0" stroke="#ddd" stroke-width="1.2" />
<line x1="252.0" y1="448.0" x2="255.0" y2="466.0" stroke="#ccc" stroke-width="1.2" />
<path d="M233,402 q10,4 12,20 q2,25 1,42 l-4,0 q0,-25 -5,-40 q-4,-12 -8,-18 z" fill="#7d7d7d" stroke="none" stroke-width="1" opacity=".75"/>
<path d="M228,410 q6,10 8,22 q-6,-8 -10,-18 z" fill="#a5a5a5" stroke="none" stroke-width="1" opacity=".7"/>
<path d="M206,430 q3,18 8,30 q-7,-10 -9,-26 z" fill="#c4c4c4" stroke="none" stroke-width="1" opacity=".8"/>
<path d="M224,424 a7.5,11 0 0 1 0,22" fill="none" stroke="#555" stroke-width="0.9" />
<circle cx="211.5" cy="406.5" r="1.6" fill="#ccc" stroke="none" stroke-width="1" />
<line x1="248.8" y1="397.8" x2="248.8" y2="467.6" stroke="#222" stroke-width="1" />
<rect x="248.8" y="423.0" width="62.5" height="23.5" fill="#fbfbfb" stroke="#222" stroke-width="1.1" />
<line x1="258.0" y1="467.6" x2="311.3" y2="467.6" stroke="#444" stroke-width="0.8" />
<rect x="311.5" y="397.8" width="89.5" height="69.8" fill="#f4f4f4" stroke="#222" stroke-width="1.2" />
<line x1="404.0" y1="398.0" x2="404.0" y2="468.0" stroke="#333" stroke-width="1.2" />
<polygon points="365.6,428.0 372.0,424.0 379.0,450.0 368.0,451.0" fill="#7d7d7d" stroke="none" stroke-width="1" opacity=".85"/>
<polygon points="369.0,417.5 373.0,415.5 386.5,450.5 381.5,452.5" fill="#3f3f3f" stroke="none" stroke-width="1" />
<polygon points="379.8,413.4 390.8,413.4 394.0,450.6 386.4,452.8" fill="#666" stroke="none" stroke-width="1" opacity=".9"/>
<polygon points="378.0,400.0 384.0,402.0 390.0,413.0 381.0,413.0" fill="#aaa" stroke="none" stroke-width="1" opacity=".7"/>
<polygon points="388.0,452.0 395.0,450.0 396.0,460.0 391.0,461.0" fill="#aaa" stroke="none" stroke-width="1" opacity=".7"/>
<path d="M336,424 q6,-6 12,-7 l1,3 q-7,2 -10,8 z" fill="#b5b5b5" stroke="none" stroke-width="1" opacity=".8"/>
<path d="M330,440 q4,12 10,18 l-6,0 q-4,-8 -4,-18 z" fill="#dcdcdc" stroke="none" stroke-width="1" />
<path d="M352,452 q4,6 12,5 l0,3 q-9,1 -13,-5 z" fill="#c8c8c8" stroke="none" stroke-width="1" />
<circle cx="354.5" cy="434.5" r="10.2" fill="#1e1e1e" stroke="#111" stroke-width="0.8" />
<path d="M349,428 q3,-3 6,-2" fill="none" stroke="#eee" stroke-width="1.1" />
<path d="M350,441 q3,2 5,1" fill="none" stroke="#ddd" stroke-width="0.9" />
<circle cx="354.5" cy="434.5" r="12.4" fill="none" stroke="#9a9a9a" stroke-width="0.8" />
<rect x="464.5" y="399.5" width="36.5" height="25.5" fill="#fbfbfb" stroke="#333" stroke-width="1" />
<circle cx="483.0" cy="412.5" r="10.0" fill="none" stroke="#ddd" stroke-width="0.8" />
<circle cx="467.5" cy="402.5" r="1.2" fill="none" stroke="#444" stroke-width="0.8" />
<circle cx="489.5" cy="402.5" r="1.2" fill="none" stroke="#444" stroke-width="0.8" />
<circle cx="467.5" cy="422.0" r="1.2" fill="none" stroke="#444" stroke-width="0.8" />
<circle cx="489.5" cy="422.0" r="1.2" fill="none" stroke="#444" stroke-width="0.8" />
<path d="M502,428 a12,12 0 0 0 0,24" fill="none" stroke="#555" stroke-width="1" />
<path d="M502,432 a8,8 0 0 0 0,16" fill="none" stroke="#999" stroke-width="0.8" />
<circle cx="440.0" cy="391.0" r="1.3" fill="none" stroke="#777" stroke-width="0.7" />
<circle cx="467.0" cy="391.0" r="1.3" fill="none" stroke="#777" stroke-width="0.7" />
<circle cx="408.0" cy="457.0" r="1.3" fill="none" stroke="#777" stroke-width="0.7" />
<circle cx="440.0" cy="457.0" r="1.3" fill="none" stroke="#777" stroke-width="0.7" />
<circle cx="466.0" cy="457.0" r="1.3" fill="none" stroke="#777" stroke-width="0.7" />
<circle cx="448.0" cy="463.0" r="1.3" fill="none" stroke="#777" stroke-width="0.7" />
<circle cx="480.0" cy="463.0" r="1.3" fill="none" stroke="#777" stroke-width="0.7" />
<polygon points="199.5,467.8 503.0,467.8 503.0,479.8 209.0,479.8 201.0,471.0" fill="#d4d4d4" stroke="none" stroke-width="1" />
<rect x="209" y="467.8" width="294.0" height="12" fill="#000" filter="url(#fGrain)" opacity=".35"/>
<line x1="201.0" y1="467.8" x2="503.0" y2="467.8" stroke="#333" stroke-width="1" />
<line x1="207.0" y1="479.8" x2="503.0" y2="479.8" stroke="#222" stroke-width="1.2" />
<path d="M211.4,470.3 a1.7,1.7 0 0 1 0,3.4" fill="none" stroke="#f2f2f2" stroke-width="0.9" />
<path d="M212.2,470.3 a1.7,1.7 0 0 1 0,3.4" fill="none" stroke="#444" stroke-width="0.6" />
<path d="M224.4,472.8 a1.7,1.7 0 0 1 0,3.4" fill="none" stroke="#f2f2f2" stroke-width="0.9" />
<path d="M225.2,472.8 a1.7,1.7 0 0 1 0,3.4" fill="none" stroke="#444" stroke-width="0.6" />
<path d="M237.4,470.3 a1.7,1.7 0 0 1 0,3.4" fill="none" stroke="#f2f2f2" stroke-width="0.9" />
<path d="M238.2,470.3 a1.7,1.7 0 0 1 0,3.4" fill="none" stroke="#444" stroke-width="0.6" />
<path d="M250.4,472.8 a1.7,1.7 0 0 1 0,3.4" fill="none" stroke="#f2f2f2" stroke-width="0.9" />
<path d="M251.2,472.8 a1.7,1.7 0 0 1 0,3.4" fill="none" stroke="#444" stroke-width="0.6" />
<path d="M263.4,470.3 a1.7,1.7 0 0 1 0,3.4" fill="none" stroke="#f2f2f2" stroke-width="0.9" />
<path d="M264.2,470.3 a1.7,1.7 0 0 1 0,3.4" fill="none" stroke="#444" stroke-width="0.6" />
<path d="M276.4,472.8 a1.7,1.7 0 0 1 0,3.4" fill="none" stroke="#f2f2f2" stroke-width="0.9" />
<path d="M277.2,472.8 a1.7,1.7 0 0 1 0,3.4" fill="none" stroke="#444" stroke-width="0.6" />
<path d="M289.4,470.3 a1.7,1.7 0 0 1 0,3.4" fill="none" stroke="#f2f2f2" stroke-width="0.9" />
<path d="M290.2,470.3 a1.7,1.7 0 0 1 0,3.4" fill="none" stroke="#444" stroke-width="0.6" />
<path d="M302.4,472.8 a1.7,1.7 0 0 1 0,3.4" fill="none" stroke="#f2f2f2" stroke-width="0.9" />
<path d="M303.2,472.8 a1.7,1.7 0 0 1 0,3.4" fill="none" stroke="#444" stroke-width="0.6" />
<path d="M315.4,470.3 a1.7,1.7 0 0 1 0,3.4" fill="none" stroke="#f2f2f2" stroke-width="0.9" />
<path d="M316.2,470.3 a1.7,1.7 0 0 1 0,3.4" fill="none" stroke="#444" stroke-width="0.6" />
<path d="M328.4,472.8 a1.7,1.7 0 0 1 0,3.4" fill="none" stroke="#f2f2f2" stroke-width="0.9" />
<path d="M329.2,472.8 a1.7,1.7 0 0 1 0,3.4" fill="none" stroke="#444" stroke-width="0.6" />
<path d="M341.4,470.3 a1.7,1.7 0 0 1 0,3.4" fill="none" stroke="#f2f2f2" stroke-width="0.9" />
<path d="M342.2,470.3 a1.7,1.7 0 0 1 0,3.4" fill="none" stroke="#444" stroke-width="0.6" />
<path d="M354.4,472.8 a1.7,1.7 0 0 1 0,3.4" fill="none" stroke="#f2f2f2" stroke-width="0.9" />
<path d="M355.2,472.8 a1.7,1.7 0 0 1 0,3.4" fill="none" stroke="#444" stroke-width="0.6" />
<path d="M367.4,470.3 a1.7,1.7 0 0 1 0,3.4" fill="none" stroke="#f2f2f2" stroke-width="0.9" />
<path d="M368.2,470.3 a1.7,1.7 0 0 1 0,3.4" fill="none" stroke="#444" stroke-width="0.6" />
<path d="M380.4,472.8 a1.7,1.7 0 0 1 0,3.4" fill="none" stroke="#f2f2f2" stroke-width="0.9" />
<path d="M381.2,472.8 a1.7,1.7 0 0 1 0,3.4" fill="none" stroke="#444" stroke-width="0.6" />
<path d="M393.4,470.3 a1.7,1.7 0 0 1 0,3.4" fill="none" stroke="#f2f2f2" stroke-width="0.9" />
<path d="M394.2,470.3 a1.7,1.7 0 0 1 0,3.4" fill="none" stroke="#444" stroke-width="0.6" />
<path d="M406.4,472.8 a1.7,1.7 0 0 1 0,3.4" fill="none" stroke="#f2f2f2" stroke-width="0.9" />
<path d="M407.2,472.8 a1.7,1.7 0 0 1 0,3.4" fill="none" stroke="#444" stroke-width="0.6" />
<path d="M419.4,470.3 a1.7,1.7 0 0 1 0,3.4" fill="none" stroke="#f2f2f2" stroke-width="0.9" />
<path d="M420.2,470.3 a1.7,1.7 0 0 1 0,3.4" fill="none" stroke="#444" stroke-width="0.6" />
<path d="M432.4,472.8 a1.7,1.7 0 0 1 0,3.4" fill="none" stroke="#f2f2f2" stroke-width="0.9" />
<path d="M433.2,472.8 a1.7,1.7 0 0 1 0,3.4" fill="none" stroke="#444" stroke-width="0.6" />
<path d="M445.4,470.3 a1.7,1.7 0 0 1 0,3.4" fill="none" stroke="#f2f2f2" stroke-width="0.9" />
<path d="M446.2,470.3 a1.7,1.7 0 0 1 0,3.4" fill="none" stroke="#444" stroke-width="0.6" />
<path d="M458.4,472.8 a1.7,1.7 0 0 1 0,3.4" fill="none" stroke="#f2f2f2" stroke-width="0.9" />
<path d="M459.2,472.8 a1.7,1.7 0 0 1 0,3.4" fill="none" stroke="#444" stroke-width="0.6" />
<path d="M471.4,470.3 a1.7,1.7 0 0 1 0,3.4" fill="none" stroke="#f2f2f2" stroke-width="0.9" />
<path d="M472.2,470.3 a1.7,1.7 0 0 1 0,3.4" fill="none" stroke="#444" stroke-width="0.6" />
<path d="M484.4,472.8 a1.7,1.7 0 0 1 0,3.4" fill="none" stroke="#f2f2f2" stroke-width="0.9" />
<path d="M485.2,472.8 a1.7,1.7 0 0 1 0,3.4" fill="none" stroke="#444" stroke-width="0.6" />
<path d="M497.4,470.3 a1.7,1.7 0 0 1 0,3.4" fill="none" stroke="#f2f2f2" stroke-width="0.9" />
<path d="M498.2,470.3 a1.7,1.7 0 0 1 0,3.4" fill="none" stroke="#444" stroke-width="0.6" />
<line x1="212.0" y1="486.0" x2="503.0" y2="486.0" stroke="#ddd" stroke-width="0.6" />
<circle cx="220.0" cy="484.0" r="0.7" fill="#777" stroke="none" stroke-width="1" />
<circle cx="258.0" cy="484.0" r="0.7" fill="#777" stroke="none" stroke-width="1" />
<circle cx="296.0" cy="484.0" r="0.7" fill="#777" stroke="none" stroke-width="1" />
<circle cx="334.0" cy="484.0" r="0.7" fill="#777" stroke="none" stroke-width="1" />
<circle cx="372.0" cy="484.0" r="0.7" fill="#777" stroke="none" stroke-width="1" />
<circle cx="410.0" cy="484.0" r="0.7" fill="#777" stroke="none" stroke-width="1" />
<circle cx="448.0" cy="484.0" r="0.7" fill="#777" stroke="none" stroke-width="1" />
<circle cx="486.0" cy="484.0" r="0.7" fill="#777" stroke="none" stroke-width="1" />
<polyline points="208.5,355.0 211.0,363.0 203.0,373.0 196.4,383.0 196.4,462.0 201.0,471.0 208.4,478.7 214.0,486.0 207.5,493.5 216.0,495.0" fill="none" stroke="#222" stroke-width="1.2" />
<polygon points="150.0,419.0 153.0,416.3 194.0,416.3 194.0,422.3 153.0,422.3" fill="#f4f4f4" stroke="#222" stroke-width="1" />
<line x1="157.0" y1="416.3" x2="157.0" y2="422.3" stroke="#555" stroke-width="0.7" />
<rect x="192.5" y="408.0" width="3.9" height="22.0" fill="#e6e6e6" stroke="#333" stroke-width="0.8" />
<polygon points="207.5,495.0 503.0,495.0 503.0,602.5 310.0,602.5" fill="#fbfbfb" stroke="none" stroke-width="1" />
<polygon points="216.0,497.5 230.5,497.5 317.5,595.0 309.5,595.0" fill="#fbfbfb" stroke="#2a2a2a" stroke-width="0.9" />
<clipPath id="sp6"><polygon points="218.4,499.0 230.6,499.0 315.0,593.5 309.1,593.5"/></clipPath>
<g clip-path="url(#sp6)">
<rect x="214.0" y="496.5" width="105.5" height="99.5" fill="#4a4a4a" stroke="none" stroke-width="1" />
<g filter="url(#fBlur2)">
<polygon points="214.0,497.0 224.0,497.0 300.0,580.0 290.0,580.0" fill="#ccc" stroke="none" stroke-width="1" opacity="0.62"/>
</g>
<rect x="214.0" y="496.5" width="105.5" height="99.5" fill="#fff" stroke="none" stroke-width="1" filter="url(#fTex)" opacity=".42"/>
<rect x="214.0" y="496.5" width="105.5" height="99.5" fill="#fff" stroke="none" stroke-width="1" filter="url(#fTex2)" opacity=".32"/>
<line x1="214.0" y1="509.5" x2="319.5" y2="509.5" stroke="#f8f8f8" stroke-width="2.2" />
<line x1="214.0" y1="522.5" x2="319.5" y2="522.5" stroke="#f8f8f8" stroke-width="2.2" />
<line x1="214.0" y1="536.0" x2="319.5" y2="536.0" stroke="#f8f8f8" stroke-width="2.2" />
<line x1="214.0" y1="549.0" x2="319.5" y2="549.0" stroke="#f8f8f8" stroke-width="2.2" />
<line x1="214.0" y1="562.5" x2="319.5" y2="562.5" stroke="#f8f8f8" stroke-width="2.2" />
<line x1="214.0" y1="578.0" x2="319.5" y2="578.0" stroke="#f8f8f8" stroke-width="2.2" />
</g>
<polygon points="239.0,497.5 283.0,497.5 348.0,595.0 320.0,595.0" fill="#fbfbfb" stroke="#2a2a2a" stroke-width="0.9" />
<clipPath id="sp7"><polygon points="242.6,499.9 281.4,499.9 343.5,593.0 319.9,593.0"/></clipPath>
<g clip-path="url(#sp7)">
<rect x="237.0" y="496.5" width="113.0" height="99.5" fill="#292929" stroke="none" stroke-width="1" />
<g filter="url(#fBlur2)">
<polygon points="238.0,497.0 264.0,497.0 334.0,595.0 318.0,595.0" fill="#dadada" stroke="none" stroke-width="1" opacity="0.74"/>
<polygon points="264.0,497.0 276.0,497.0 312.0,540.0 300.0,540.0" fill="#bbb" stroke="none" stroke-width="1" opacity="0.52"/>
</g>
<rect x="237.0" y="496.5" width="113.0" height="99.5" fill="#fff" stroke="none" stroke-width="1" filter="url(#fTex)" opacity=".42"/>
<rect x="237.0" y="496.5" width="113.0" height="99.5" fill="#fff" stroke="none" stroke-width="1" filter="url(#fTex2)" opacity=".32"/>
<line x1="262.0" y1="500.0" x2="285.0" y2="560.0" stroke="#f6f6f6" stroke-width="1.6" opacity=".9"/>
<line x1="270.0" y1="503.0" x2="300.0" y2="570.0" stroke="#f6f6f6" stroke-width="1.0" opacity=".9"/>
<line x1="237.0" y1="509.5" x2="350.0" y2="509.5" stroke="#f8f8f8" stroke-width="2.2" />
<line x1="237.0" y1="522.5" x2="350.0" y2="522.5" stroke="#f8f8f8" stroke-width="2.2" />
<line x1="237.0" y1="536.0" x2="350.0" y2="536.0" stroke="#f8f8f8" stroke-width="2.2" />
<line x1="237.0" y1="549.0" x2="350.0" y2="549.0" stroke="#f8f8f8" stroke-width="2.2" />
<line x1="237.0" y1="562.5" x2="350.0" y2="562.5" stroke="#f8f8f8" stroke-width="2.2" />
<line x1="304.1" y1="562.5" x2="329.3" y2="595.0" stroke="#f8f8f8" stroke-width="2.4000000000000004" />
<line x1="315.2" y1="562.5" x2="338.7" y2="595.0" stroke="#f8f8f8" stroke-width="2.4000000000000004" />
</g>
<polygon points="292.5,497.5 355.5,497.5 395.0,595.0 356.0,595.0" fill="#fbfbfb" stroke="#2a2a2a" stroke-width="0.9" />
<clipPath id="sp8"><polygon points="295.7,499.9 353.3,499.9 391.0,593.0 356.3,593.0"/></clipPath>
<g clip-path="url(#sp8)">
<rect x="290.5" y="496.5" width="106.5" height="99.5" fill="#292929" stroke="none" stroke-width="1" />
<g filter="url(#fBlur2)">
<polygon points="292.0,497.0 336.0,497.0 383.0,595.0 356.0,595.0" fill="#dedede" stroke="none" stroke-width="1" opacity="0.78"/>
<polygon points="336.0,497.0 350.0,497.0 374.0,540.0 362.0,540.0" fill="#bbb" stroke="none" stroke-width="1" opacity="0.47"/>
</g>
<rect x="290.5" y="496.5" width="106.5" height="99.5" fill="#fff" stroke="none" stroke-width="1" filter="url(#fTex)" opacity=".42"/>
<rect x="290.5" y="496.5" width="106.5" height="99.5" fill="#fff" stroke="none" stroke-width="1" filter="url(#fTex2)" opacity=".32"/>
<line x1="318.0" y1="505.0" x2="362.0" y2="585.0" stroke="#f6f6f6" stroke-width="1.6" opacity=".9"/>
<line x1="376.0" y1="552.0" x2="362.0" y2="585.0" stroke="#f6f6f6" stroke-width="1.5" opacity=".9"/>
<line x1="368.0" y1="556.0" x2="360.0" y2="580.0" stroke="#f6f6f6" stroke-width="1.0" opacity=".9"/>
<line x1="290.5" y1="509.5" x2="397.0" y2="509.5" stroke="#f8f8f8" stroke-width="2.2" />
<line x1="290.5" y1="522.5" x2="397.0" y2="522.5" stroke="#f8f8f8" stroke-width="2.2" />
<line x1="290.5" y1="536.0" x2="397.0" y2="536.0" stroke="#f8f8f8" stroke-width="2.2" />
<line x1="290.5" y1="549.0" x2="397.0" y2="549.0" stroke="#f8f8f8" stroke-width="2.2" />
<line x1="290.5" y1="562.5" x2="397.0" y2="562.5" stroke="#f8f8f8" stroke-width="2.2" />
<line x1="350.5" y1="562.5" x2="369.0" y2="595.0" stroke="#f8f8f8" stroke-width="2.4000000000000004" />
<line x1="366.2" y1="562.5" x2="382.0" y2="595.0" stroke="#f8f8f8" stroke-width="2.4000000000000004" />
</g>
<polygon points="365.0,497.5 443.0,497.5 458.0,595.0 406.0,595.0" fill="#fbfbfb" stroke="#2a2a2a" stroke-width="0.9" />
<clipPath id="sp9"><polygon points="367.6,499.9 440.2,499.9 454.5,593.0 406.8,593.0"/></clipPath>
<g clip-path="url(#sp9)">
<rect x="363.0" y="496.5" width="97.0" height="99.5" fill="#292929" stroke="none" stroke-width="1" />
<g filter="url(#fBlur2)">
<polygon points="385.0,501.0 440.0,501.0 441.0,508.0 388.0,508.0" fill="#e0e0e0" stroke="none" stroke-width="1" opacity="0.82"/>
<polygon points="400.0,564.0 434.0,564.0 436.0,594.0 408.0,594.0" fill="#d0d0d0" stroke="none" stroke-width="1" opacity="0.67"/>
<polygon points="366.0,497.0 380.0,497.0 402.0,540.0 392.0,540.0" fill="#aaa" stroke="none" stroke-width="1" opacity="0.47"/>
</g>
<rect x="363.0" y="496.5" width="97.0" height="99.5" fill="#fff" stroke="none" stroke-width="1" filter="url(#fTex)" opacity=".42"/>
<rect x="363.0" y="496.5" width="97.0" height="99.5" fill="#fff" stroke="none" stroke-width="1" filter="url(#fTex2)" opacity=".32"/>
<line x1="439.0" y1="505.0" x2="412.0" y2="552.0" stroke="#f6f6f6" stroke-width="1.4" opacity=".9"/>
<line x1="437.0" y1="520.0" x2="408.0" y2="556.0" stroke="#f6f6f6" stroke-width="1.0" opacity=".9"/>
<line x1="390.0" y1="510.0" x2="420.0" y2="560.0" stroke="#f6f6f6" stroke-width="1.0" opacity=".9"/>
<line x1="363.0" y1="509.5" x2="460.0" y2="509.5" stroke="#f8f8f8" stroke-width="2.2" />
<line x1="363.0" y1="522.5" x2="460.0" y2="522.5" stroke="#f8f8f8" stroke-width="2.2" />
<line x1="363.0" y1="536.0" x2="460.0" y2="536.0" stroke="#f8f8f8" stroke-width="2.2" />
<line x1="363.0" y1="549.0" x2="460.0" y2="549.0" stroke="#f8f8f8" stroke-width="2.2" />
<line x1="363.0" y1="562.5" x2="460.0" y2="562.5" stroke="#f8f8f8" stroke-width="2.2" />
<line x1="412.6" y1="562.5" x2="423.3" y2="595.0" stroke="#f8f8f8" stroke-width="2.4000000000000004" />
<line x1="432.8" y1="562.5" x2="440.7" y2="595.0" stroke="#f8f8f8" stroke-width="2.4000000000000004" />
</g>
<polygon points="455.0,497.5 507.0,497.5 507.0,595.0 470.0,595.0" fill="#fbfbfb" stroke="#2a2a2a" stroke-width="0.9" />
<clipPath id="sp10"><polygon points="457.0,499.9 507.0,499.9 507.0,593.0 471.3,593.0"/></clipPath>
<g clip-path="url(#sp10)">
<rect x="453.0" y="496.5" width="56.0" height="99.5" fill="#292929" stroke="none" stroke-width="1" />
<g filter="url(#fBlur2)">
<polygon points="470.0,566.0 503.0,566.0 503.0,594.0 472.0,594.0" fill="#c8c8c8" stroke="none" stroke-width="1" opacity="0.62"/>
<polygon points="456.0,497.0 468.0,497.0 476.0,540.0 466.0,540.0" fill="#bbb" stroke="none" stroke-width="1" opacity="0.52"/>
</g>
<rect x="453.0" y="496.5" width="56.0" height="99.5" fill="#fff" stroke="none" stroke-width="1" filter="url(#fTex)" opacity=".42"/>
<rect x="453.0" y="496.5" width="56.0" height="99.5" fill="#fff" stroke="none" stroke-width="1" filter="url(#fTex2)" opacity=".32"/>
<line x1="493.0" y1="510.0" x2="474.0" y2="575.0" stroke="#f6f6f6" stroke-width="1.4" opacity=".9"/>
<line x1="487.0" y1="515.0" x2="470.0" y2="560.0" stroke="#f6f6f6" stroke-width="1.0" opacity=".9"/>
<line x1="460.0" y1="505.0" x2="480.0" y2="520.0" stroke="#f6f6f6" stroke-width="1.0" opacity=".9"/>
<line x1="466.0" y1="512.0" x2="476.0" y2="540.0" stroke="#f6f6f6" stroke-width="1.0" opacity=".9"/>
<line x1="453.0" y1="509.5" x2="509.0" y2="509.5" stroke="#f8f8f8" stroke-width="2.2" />
<line x1="453.0" y1="522.5" x2="509.0" y2="522.5" stroke="#f8f8f8" stroke-width="2.2" />
<line x1="453.0" y1="536.0" x2="509.0" y2="536.0" stroke="#f8f8f8" stroke-width="2.2" />
<line x1="453.0" y1="549.0" x2="509.0" y2="549.0" stroke="#f8f8f8" stroke-width="2.2" />
<line x1="453.0" y1="562.5" x2="509.0" y2="562.5" stroke="#f8f8f8" stroke-width="2.2" />
<line x1="486.0" y1="562.5" x2="488.5" y2="595.0" stroke="#f8f8f8" stroke-width="2.4000000000000004" />
</g>
<polyline points="207.5,495.0 310.0,602.5" fill="none" stroke="#222" stroke-width="1.2" />
<line x1="211.0" y1="495.5" x2="312.0" y2="601.0" stroke="#555" stroke-width="0.8" />
<line x1="207.5" y1="495.0" x2="503.0" y2="495.0" stroke="#333" stroke-width="0.9" />
<circle cx="291.1" cy="502.9" r="0.8" fill="#666" stroke="none" stroke-width="1" />
<circle cx="298.2" cy="513.8" r="0.8" fill="#666" stroke="none" stroke-width="1" />
<circle cx="305.4" cy="524.6" r="0.8" fill="#666" stroke="none" stroke-width="1" />
<circle cx="312.6" cy="535.4" r="0.8" fill="#666" stroke="none" stroke-width="1" />
<circle cx="319.8" cy="546.2" r="0.8" fill="#666" stroke="none" stroke-width="1" />
<circle cx="326.9" cy="557.1" r="0.8" fill="#666" stroke="none" stroke-width="1" />
<circle cx="334.1" cy="567.9" r="0.8" fill="#666" stroke="none" stroke-width="1" />
<circle cx="341.2" cy="578.8" r="0.8" fill="#666" stroke="none" stroke-width="1" />
<circle cx="348.4" cy="589.6" r="0.8" fill="#666" stroke="none" stroke-width="1" />
<circle cx="362.2" cy="502.9" r="0.8" fill="#666" stroke="none" stroke-width="1" />
<circle cx="366.8" cy="513.8" r="0.8" fill="#666" stroke="none" stroke-width="1" />
<circle cx="371.2" cy="524.6" r="0.8" fill="#666" stroke="none" stroke-width="1" />
<circle cx="375.8" cy="535.4" r="0.8" fill="#666" stroke="none" stroke-width="1" />
<circle cx="380.2" cy="546.2" r="0.8" fill="#666" stroke="none" stroke-width="1" />
<circle cx="384.8" cy="557.1" r="0.8" fill="#666" stroke="none" stroke-width="1" />
<circle cx="389.2" cy="567.9" r="0.8" fill="#666" stroke="none" stroke-width="1" />
<circle cx="393.8" cy="578.8" r="0.8" fill="#666" stroke="none" stroke-width="1" />
<circle cx="398.2" cy="589.6" r="0.8" fill="#666" stroke="none" stroke-width="1" />
<circle cx="449.8" cy="502.9" r="0.8" fill="#666" stroke="none" stroke-width="1" />
<circle cx="451.5" cy="513.8" r="0.8" fill="#666" stroke="none" stroke-width="1" />
<circle cx="453.2" cy="524.6" r="0.8" fill="#666" stroke="none" stroke-width="1" />
<circle cx="454.8" cy="535.4" r="0.8" fill="#666" stroke="none" stroke-width="1" />
<circle cx="456.5" cy="546.2" r="0.8" fill="#666" stroke="none" stroke-width="1" />
<circle cx="458.2" cy="557.1" r="0.8" fill="#666" stroke="none" stroke-width="1" />
<circle cx="459.8" cy="567.9" r="0.8" fill="#666" stroke="none" stroke-width="1" />
<circle cx="461.5" cy="578.8" r="0.8" fill="#666" stroke="none" stroke-width="1" />
<circle cx="463.2" cy="589.6" r="0.8" fill="#666" stroke="none" stroke-width="1" />
<polygon points="310.0,602.5 503.0,602.5 503.0,609.0 332.5,609.0 331.0,606.0" fill="#f1f1f1" stroke="none" stroke-width="1" />
<line x1="308.0" y1="598.5" x2="503.0" y2="598.5" stroke="#444" stroke-width="0.9" />
<line x1="310.0" y1="602.5" x2="503.0" y2="602.5" stroke="#222" stroke-width="1.1" />
<polyline points="310.0,602.5 332.0,607.3 503.0,607.3" fill="none" stroke="#333" stroke-width="1" />
<circle cx="316.0" cy="600.6" r="0.7" fill="#444" stroke="none" stroke-width="1" />
<circle cx="330.0" cy="600.6" r="0.7" fill="#444" stroke="none" stroke-width="1" />
<circle cx="344.0" cy="600.6" r="0.7" fill="#444" stroke="none" stroke-width="1" />
<circle cx="358.0" cy="600.6" r="0.7" fill="#444" stroke="none" stroke-width="1" />
<circle cx="372.0" cy="600.6" r="0.7" fill="#444" stroke="none" stroke-width="1" />
<circle cx="386.0" cy="600.6" r="0.7" fill="#444" stroke="none" stroke-width="1" />
<circle cx="400.0" cy="600.6" r="0.7" fill="#444" stroke="none" stroke-width="1" />
<circle cx="414.0" cy="600.6" r="0.7" fill="#444" stroke="none" stroke-width="1" />
<circle cx="428.0" cy="600.6" r="0.7" fill="#444" stroke="none" stroke-width="1" />
<circle cx="442.0" cy="600.6" r="0.7" fill="#444" stroke="none" stroke-width="1" />
<circle cx="456.0" cy="600.6" r="0.7" fill="#444" stroke="none" stroke-width="1" />
<circle cx="470.0" cy="600.6" r="0.7" fill="#444" stroke="none" stroke-width="1" />
<circle cx="484.0" cy="600.6" r="0.7" fill="#444" stroke="none" stroke-width="1" />
<circle cx="498.0" cy="600.6" r="0.7" fill="#444" stroke="none" stroke-width="1" />
<circle cx="340.0" cy="605.0" r="0.7" fill="#555" stroke="none" stroke-width="1" />
<circle cx="357.0" cy="605.0" r="0.7" fill="#555" stroke="none" stroke-width="1" />
<circle cx="374.0" cy="605.0" r="0.7" fill="#555" stroke="none" stroke-width="1" />
<circle cx="391.0" cy="605.0" r="0.7" fill="#555" stroke="none" stroke-width="1" />
<circle cx="408.0" cy="605.0" r="0.7" fill="#555" stroke="none" stroke-width="1" />
<circle cx="425.0" cy="605.0" r="0.7" fill="#555" stroke="none" stroke-width="1" />
<circle cx="442.0" cy="605.0" r="0.7" fill="#555" stroke="none" stroke-width="1" />
<circle cx="459.0" cy="605.0" r="0.7" fill="#555" stroke="none" stroke-width="1" />
<circle cx="476.0" cy="605.0" r="0.7" fill="#555" stroke="none" stroke-width="1" />
<circle cx="493.0" cy="605.0" r="0.7" fill="#555" stroke="none" stroke-width="1" />
<clipPath id="cLCL"><polygon points="332.5,608.5 503.0,608.5 503.0,679 402.5,679"/></clipPath>
<polygon points="332.5,608.5 503.0,608.5 503.0,679.0 402.5,679.0" fill="url(#gLowConeL)" stroke="none" stroke-width="1" />
<g clip-path="url(#cLCL)"><g filter="url(#fBlur2)">
<polygon points="326.0,602.0 346.0,602.0 420.0,684.0 398.0,684.0" fill="#7a7a7a" stroke="none" stroke-width="1" opacity=".7"/>
<rect x="400.0" y="674.0" width="103.0" height="7.0" fill="#999" stroke="none" stroke-width="1" opacity=".5"/>
<polygon points="440.0,600.0 474.0,600.0 486.0,685.0 452.0,685.0" fill="#fdfdfd" stroke="none" stroke-width="1" opacity=".8"/>
<polygon points="380.0,600.0 400.0,600.0 436.0,685.0 420.0,685.0" fill="#d8d8d8" stroke="none" stroke-width="1" opacity=".6"/>
</g></g>
<polygon points="332.5,608.5 503.0,608.5 503.0,679 402.5,679" fill="#000" filter="url(#fGrain)" opacity=".10"/>
<polyline points="332.5,608.5 402.5,679.0" fill="none" stroke="#222" stroke-width="1.3" />
<polygon points="358.0,634.5 361.0,632.0 383.0,654.0 380.0,657.0" fill="#f4f4f4" stroke="#222" stroke-width="0.8" />
<line x1="502.5" y1="608.0" x2="502.5" y2="679.0" stroke="#444" stroke-width="0.8" />
<rect x="503.0" y="362.0" width="303.0" height="114.0" fill="#fafafa" stroke="none" stroke-width="1" />
<polygon points="565.0,151.5 581.0,151.5 800.0,362.0 565.0,362.0" fill="#fdfdfd" stroke="none" stroke-width="1" />
<rect x="503.0" y="151.5" width="62.0" height="258.5" fill="#fbfbfb" stroke="none" stroke-width="1" />
<line x1="503.0" y1="158.5" x2="565.0" y2="158.5" stroke="#333" stroke-width="1" />
<line x1="503.0" y1="154.0" x2="548.0" y2="154.0" stroke="#555" stroke-width="0.8" />
<rect x="504.0" y="160.0" width="26.0" height="38.0" fill="#fafafa" stroke="#444" stroke-width="0.8" />
<rect x="531.0" y="155.5" width="34.0" height="19.5" fill="#e9e9e9" stroke="#333" stroke-width="0.8" />
<rect x="531.0" y="156.0" width="34.0" height="4.0" fill="#555" stroke="none" stroke-width="1" />
<rect x="531.0" y="160.0" width="34.0" height="3.5" fill="#8a8a8a" stroke="none" stroke-width="1" />
<rect x="531.0" y="163.5" width="34.0" height="3.0" fill="#bdbdbd" stroke="none" stroke-width="1" />
<polygon points="540.0,166.0 562.0,164.0 563.0,170.0 548.0,172.0" fill="#cfcfcf" stroke="none" stroke-width="1" />
<rect x="531.5" y="177.5" width="30.5" height="21.5" fill="#2b2b2b" stroke="#111" stroke-width="0.8" />
<rect x="534.0" y="180.0" width="4.0" height="17.0" fill="#555" stroke="none" stroke-width="1" />
<circle cx="561.5" cy="193.0" r="1.6" fill="#777" stroke="#222" stroke-width="0.6" />
<rect x="515.0" y="184.0" width="8.0" height="14.0" fill="#444" stroke="none" stroke-width="1" />
<line x1="517.0" y1="185.0" x2="521.0" y2="197.0" stroke="#ddd" stroke-width="1.2" />
<rect x="524.0" y="186.0" width="6.0" height="12.0" fill="#ddd" stroke="#333" stroke-width="0.6" />
<rect x="547.5" y="199.0" width="17.5" height="192.0" fill="url(#gBar)" stroke="none" stroke-width="1" />
<rect x="547.5" y="199" width="17.5" height="192" fill="#fff" filter="url(#fGrainW)" opacity=".25"/>
<line x1="565.0" y1="151.5" x2="565.0" y2="392.0" stroke="#1c1c1c" stroke-width="1.4" />
<line x1="561.5" y1="178.0" x2="561.5" y2="388.0" stroke="#888" stroke-width="0.7" />
<rect x="504.0" y="199.5" width="53.5" height="22.5" fill="#f9f9f9" stroke="#333" stroke-width="0.9" />
<rect x="504.0" y="222.0" width="55.0" height="4.0" fill="#e4e4e4" stroke="#333" stroke-width="0.8" />
<rect x="504.0" y="226.0" width="53.0" height="16.5" fill="#f7f7f7" stroke="#444" stroke-width="0.8" />
<rect x="504.0" y="242.5" width="50.0" height="5.0" fill="#ddd" stroke="#333" stroke-width="0.8" />
<rect x="527.5" y="247.5" width="20.0" height="101.5" fill="#fafafa" stroke="none" stroke-width="1" />
<line x1="547.5" y1="247.5" x2="547.5" y2="349.0" stroke="#333" stroke-width="0.9" />
<rect x="530.0" y="349.0" width="25.0" height="5.5" fill="#f1f1f1" stroke="#333" stroke-width="0.8" />
<rect x="530.0" y="354.5" width="27.0" height="37.5" fill="#f6f6f6" stroke="#444" stroke-width="0.7" />
<line x1="530.0" y1="366.0" x2="557.0" y2="366.0" stroke="#999" stroke-width="0.6" />
<line x1="530.0" y1="378.0" x2="557.0" y2="378.0" stroke="#aaa" stroke-width="0.6" />
<path d="M504,255 C517,262 526,288 528,318 C529.5,340 529,354 531,366 C534,380 546,390 557,391 L563,386 L565,368" fill="none" stroke="#222" stroke-width="1" />
<rect x="503.0" y="151.5" width="4.0" height="258.5" fill="#e9e9e9" stroke="none" stroke-width="1" />
<line x1="507.0" y1="151.5" x2="507.0" y2="410.0" stroke="#999" stroke-width="0.7" />
<circle cx="574.0" cy="250.0" r="2.0" fill="#ddd" stroke="#444" stroke-width="0.8" />
<circle cx="600.5" cy="250.0" r="2.0" fill="#ddd" stroke="#444" stroke-width="0.8" />
<circle cx="625.0" cy="250.0" r="1.5" fill="#ddd" stroke="#444" stroke-width="0.8" />
<circle cx="643.5" cy="250.0" r="1.5" fill="#ddd" stroke="#444" stroke-width="0.8" />
<circle cx="658.0" cy="250.0" r="1.6" fill="#ddd" stroke="#444" stroke-width="0.8" />
<circle cx="668.5" cy="250.0" r="2.0" fill="#ddd" stroke="#444" stroke-width="0.8" />
<circle cx="632.0" cy="338.0" r="2.3" fill="#eee" stroke="#555" stroke-width="0.7" />
<circle cx="743.0" cy="337.0" r="1.0" fill="#777" stroke="none" stroke-width="1" />
<polygon points="568.0,157.0 581.0,157.0 594.0,171.0 568.0,171.0" fill="#dcdcdc" stroke="#333" stroke-width="0.8" />
<circle cx="575.0" cy="161.5" r="1.6" fill="#fff" stroke="#333" stroke-width="0.7" />
<circle cx="582.5" cy="161.5" r="1.6" fill="#fff" stroke="#333" stroke-width="0.7" />
<circle cx="571.5" cy="167.5" r="1.6" fill="#fff" stroke="#333" stroke-width="0.7" />
<circle cx="586.0" cy="167.5" r="1.6" fill="#fff" stroke="#333" stroke-width="0.7" />
<rect x="563.0" y="144.5" width="5.0" height="13.5" fill="#e0e0e0" stroke="#222" stroke-width="0.8" />
<rect x="570.0" y="145.5" width="5.0" height="12.5" fill="#eee" stroke="#222" stroke-width="0.8" />
<rect x="572.0" y="147.0" width="8.0" height="4.5" fill="#f3f3f3" stroke="#222" stroke-width="0.8" />
<line x1="580.0" y1="151.5" x2="676.0" y2="246.0" stroke="#222" stroke-width="1.1" />
<line x1="582.0" y1="151.5" x2="678.0" y2="246.0" stroke="#888" stroke-width="0.6" />
<polygon points="671.0,247.5 677.0,243.2 688.2,243.8 797.5,353.2 791.0,364.0 783.0,360.5" fill="#e6e6e6" stroke="#1a1a1a" stroke-width="1.2" />
<line x1="684.0" y1="243.8" x2="795.0" y2="354.8" stroke="#333" stroke-width="1.0" />
<line x1="680.0" y1="243.5" x2="792.0" y2="355.5" stroke="#9a9a9a" stroke-width="0.8" />
<line x1="675.5" y1="244.5" x2="789.0" y2="358.0" stroke="#444" stroke-width="0.9" />
<line x1="673.0" y1="245.5" x2="786.5" y2="359.0" stroke="#8a8a8a" stroke-width="0.8" />
<polygon points="677.0,243.2 688.2,243.8 684.0,247.8 676.0,246.6" fill="#cfcfcf" stroke="#222" stroke-width="0.8" />
<circle cx="711.0" cy="264.4" r="1.1" fill="#2a2a2a" stroke="none" stroke-width="1" />
<circle cx="730.6" cy="284.1" r="1.1" fill="#2a2a2a" stroke="none" stroke-width="1" />
<circle cx="750.2" cy="303.8" r="1.1" fill="#2a2a2a" stroke="none" stroke-width="1" />
<circle cx="769.9" cy="323.4" r="1.1" fill="#2a2a2a" stroke="none" stroke-width="1" />
<circle cx="789.5" cy="343.1" r="1.1" fill="#2a2a2a" stroke="none" stroke-width="1" />
<g transform="translate(624.3,203.3) rotate(45)">
<rect x="-14.5" y="-4.5" width="4.0" height="6.0" fill="#ddd" stroke="#222" stroke-width="0.8" />
<rect x="11.0" y="-4.5" width="4.5" height="6.0" fill="#ddd" stroke="#222" stroke-width="0.8" />
<rect x="-10.5" y="-9.0" width="21.5" height="4.0" fill="#fafafa" stroke="#222" stroke-width="1" />
<rect x="-12.0" y="-5.0" width="24.5" height="7.5" fill="#f6f6f6" stroke="#222" stroke-width="1" />
<rect x="-8.0" y="2.5" width="16.0" height="16.0" fill="#f8f8f8" stroke="#222" stroke-width="1.1" />
<rect x="-5.0" y="18.5" width="10.0" height="10.0" fill="#f1f1f1" stroke="#222" stroke-width="1" />
<rect x="-2.6" y="28.5" width="1.8" height="7.5" fill="#333" stroke="none" stroke-width="1" />
<rect x="0.6" y="28.5" width="1.8" height="7.5" fill="#333" stroke="none" stroke-width="1" />
</g>
<line x1="565.0" y1="361.0" x2="798.0" y2="361.0" stroke="#444" stroke-width="0.8" />
<rect x="565.0" y="377.5" width="238.0" height="25.5" fill="url(#gBand)" stroke="none" stroke-width="1" />
<polygon points="565.0,368.5 622.0,368.5 617.0,378.0 603.0,386.5 565.0,386.5" fill="#202020" stroke="none" stroke-width="1" />
<rect x="565" y="377.5" width="238" height="25.5" fill="#fff" filter="url(#fGrainW)" opacity=".18"/>
<line x1="606.0" y1="401.0" x2="803.0" y2="401.0" stroke="#151515" stroke-width="3.2" />
<line x1="565.0" y1="402.5" x2="606.0" y2="402.5" stroke="#151515" stroke-width="1.5" />
<polygon points="626.0,362.5 770.0,362.5 757.0,377.0 620.0,377.0" fill="#f8f8f8" stroke="#222" stroke-width="0.9" />
<circle cx="631.0" cy="365.5" r="1.4" fill="#fff" stroke="#444" stroke-width="0.7" />
<circle cx="653.0" cy="365.5" r="1.4" fill="#fff" stroke="#444" stroke-width="0.7" />
<circle cx="675.0" cy="365.5" r="1.4" fill="#fff" stroke="#444" stroke-width="0.7" />
<circle cx="697.0" cy="365.5" r="1.4" fill="#fff" stroke="#444" stroke-width="0.7" />
<circle cx="718.0" cy="365.5" r="1.4" fill="#fff" stroke="#444" stroke-width="0.7" />
<circle cx="740.0" cy="365.5" r="1.4" fill="#fff" stroke="#444" stroke-width="0.7" />
<circle cx="762.0" cy="365.5" r="1.4" fill="#fff" stroke="#444" stroke-width="0.7" />
<circle cx="634.0" cy="370.0" r="1.0" fill="none" stroke="#666" stroke-width="0.6" />
<circle cx="638.0" cy="372.0" r="1.0" fill="none" stroke="#666" stroke-width="0.6" />
<circle cx="642.0" cy="370.0" r="1.0" fill="none" stroke="#666" stroke-width="0.6" />
<circle cx="636.0" cy="374.5" r="1.0" fill="none" stroke="#666" stroke-width="0.6" />
<circle cx="641.0" cy="374.5" r="1.0" fill="none" stroke="#666" stroke-width="0.6" />
<circle cx="753.0" cy="369.0" r="1.0" fill="none" stroke="#666" stroke-width="0.6" />
<circle cx="757.0" cy="371.0" r="1.0" fill="none" stroke="#666" stroke-width="0.6" />
<circle cx="752.0" cy="373.5" r="1.0" fill="none" stroke="#666" stroke-width="0.6" />
<circle cx="756.0" cy="375.0" r="1.0" fill="none" stroke="#666" stroke-width="0.6" />
<ellipse cx="581.0" cy="391.0" rx="9.0" ry="4.6" fill="#d9d9d9" stroke="#161616" stroke-width="1.1" />
<ellipse cx="581.0" cy="391.0" rx="5.0" ry="2.8" fill="#8f8f8f" stroke="#222" stroke-width="0.7" />
<circle cx="581.0" cy="391.0" r="1.1" fill="#eee" stroke="none" stroke-width="1" />
<ellipse cx="599.0" cy="391.0" rx="8.0" ry="4.6" fill="#d9d9d9" stroke="#161616" stroke-width="1.1" />
<ellipse cx="599.0" cy="391.0" rx="4.4" ry="2.8" fill="#8f8f8f" stroke="#222" stroke-width="0.7" />
<circle cx="599.0" cy="391.0" r="1.1" fill="#eee" stroke="none" stroke-width="1" />
<ellipse cx="629.0" cy="391.0" rx="8.5" ry="4.6" fill="#d9d9d9" stroke="#161616" stroke-width="1.1" />
<ellipse cx="629.0" cy="391.0" rx="4.7" ry="2.8" fill="#8f8f8f" stroke="#222" stroke-width="0.7" />
<circle cx="629.0" cy="391.0" r="1.1" fill="#eee" stroke="none" stroke-width="1" />
<ellipse cx="673.0" cy="391.0" rx="8.5" ry="4.6" fill="#d9d9d9" stroke="#161616" stroke-width="1.1" />
<ellipse cx="673.0" cy="391.0" rx="4.7" ry="2.8" fill="#8f8f8f" stroke="#222" stroke-width="0.7" />
<circle cx="673.0" cy="391.0" r="1.1" fill="#eee" stroke="none" stroke-width="1" />
<ellipse cx="711.0" cy="391.0" rx="7.5" ry="4.6" fill="#d9d9d9" stroke="#161616" stroke-width="1.1" />
<ellipse cx="711.0" cy="391.0" rx="4.1" ry="2.8" fill="#8f8f8f" stroke="#222" stroke-width="0.7" />
<circle cx="711.0" cy="391.0" r="1.1" fill="#eee" stroke="none" stroke-width="1" />
<ellipse cx="743.5" cy="391.0" rx="6.0" ry="4.6" fill="#d9d9d9" stroke="#161616" stroke-width="1.1" />
<ellipse cx="743.5" cy="391.0" rx="3.3" ry="2.8" fill="#8f8f8f" stroke="#222" stroke-width="0.7" />
<circle cx="743.5" cy="391.0" r="1.1" fill="#eee" stroke="none" stroke-width="1" />
<ellipse cx="771.0" cy="391.0" rx="5.0" ry="4.6" fill="#d9d9d9" stroke="#161616" stroke-width="1.1" />
<ellipse cx="771.0" cy="391.0" rx="2.8" ry="2.8" fill="#8f8f8f" stroke="#222" stroke-width="0.7" />
<circle cx="771.0" cy="391.0" r="1.1" fill="#eee" stroke="none" stroke-width="1" />
<ellipse cx="787.5" cy="391.0" rx="4.2" ry="4.6" fill="#d9d9d9" stroke="#161616" stroke-width="1.1" />
<ellipse cx="787.5" cy="391.0" rx="2.3" ry="2.8" fill="#8f8f8f" stroke="#222" stroke-width="0.7" />
<circle cx="787.5" cy="391.0" r="1.1" fill="#eee" stroke="none" stroke-width="1" />
<circle cx="651.0" cy="380.5" r="1.6" fill="#bbb" stroke="#222" stroke-width="0.7" />
<circle cx="690.0" cy="380.5" r="1.6" fill="#bbb" stroke="#222" stroke-width="0.7" />
<circle cx="729.0" cy="380.5" r="1.6" fill="#bbb" stroke="#222" stroke-width="0.7" />
<circle cx="758.0" cy="380.5" r="1.6" fill="#bbb" stroke="#222" stroke-width="0.7" />
<circle cx="780.0" cy="380.5" r="1.6" fill="#bbb" stroke="#222" stroke-width="0.7" />
<polygon points="770.0,362.5 785.0,365.0 798.0,371.0 803.0,378.0 803.0,403.0 760.0,403.0 757.0,377.0" fill="none" stroke="#222" stroke-width="1" />
<circle cx="771.0" cy="372.5" r="1.8" fill="#ddd" stroke="#333" stroke-width="0.7" />
<circle cx="787.0" cy="372.5" r="1.8" fill="#ddd" stroke="#333" stroke-width="0.7" />
<circle cx="782.0" cy="381.0" r="1.8" fill="#ddd" stroke="#333" stroke-width="0.7" />
<rect x="503.0" y="409.5" width="89.0" height="31.5" fill="#cfcfcf" stroke="none" stroke-width="1" />
<line x1="503.0" y1="410.2" x2="591.0" y2="410.2" stroke="#1a1a1a" stroke-width="1.4" />
<line x1="503.0" y1="413.2" x2="591.0" y2="413.2" stroke="#3a3a3a" stroke-width="1.6" />
<line x1="503.0" y1="416.3" x2="591.0" y2="416.3" stroke="#777" stroke-width="1.0" />
<line x1="503.0" y1="419.0" x2="591.0" y2="419.0" stroke="#2a2a2a" stroke-width="1.6" />
<line x1="503.0" y1="422.0" x2="591.0" y2="422.0" stroke="#999" stroke-width="0.8" />
<line x1="503.0" y1="426.8" x2="591.0" y2="426.8" stroke="#151515" stroke-width="4.2" />
<line x1="503.0" y1="431.6" x2="591.0" y2="431.6" stroke="#555" stroke-width="1.2" />
<line x1="503.0" y1="434.6" x2="591.0" y2="434.6" stroke="#222" stroke-width="1.6" />
<line x1="503.0" y1="437.6" x2="591.0" y2="437.6" stroke="#777" stroke-width="0.9" />
<line x1="503.0" y1="440.3" x2="591.0" y2="440.3" stroke="#1a1a1a" stroke-width="1.4" />
<line x1="506.0" y1="425.3" x2="506.0" y2="428.3" stroke="#e6e6e6" stroke-width="0.9" />
<line x1="509.0" y1="425.3" x2="509.0" y2="428.3" stroke="#e6e6e6" stroke-width="0.9" />
<line x1="512.0" y1="425.3" x2="512.0" y2="428.3" stroke="#e6e6e6" stroke-width="0.9" />
<line x1="515.0" y1="425.3" x2="515.0" y2="428.3" stroke="#e6e6e6" stroke-width="0.9" />
<line x1="518.0" y1="425.3" x2="518.0" y2="428.3" stroke="#e6e6e6" stroke-width="0.9" />
<line x1="521.0" y1="425.3" x2="521.0" y2="428.3" stroke="#e6e6e6" stroke-width="0.9" />
<line x1="524.0" y1="425.3" x2="524.0" y2="428.3" stroke="#e6e6e6" stroke-width="0.9" />
<line x1="527.0" y1="425.3" x2="527.0" y2="428.3" stroke="#e6e6e6" stroke-width="0.9" />
<line x1="530.0" y1="425.3" x2="530.0" y2="428.3" stroke="#e6e6e6" stroke-width="0.9" />
<line x1="533.0" y1="425.3" x2="533.0" y2="428.3" stroke="#e6e6e6" stroke-width="0.9" />
<line x1="536.0" y1="425.3" x2="536.0" y2="428.3" stroke="#e6e6e6" stroke-width="0.9" />
<line x1="539.0" y1="425.3" x2="539.0" y2="428.3" stroke="#e6e6e6" stroke-width="0.9" />
<line x1="542.0" y1="425.3" x2="542.0" y2="428.3" stroke="#e6e6e6" stroke-width="0.9" />
<line x1="545.0" y1="425.3" x2="545.0" y2="428.3" stroke="#e6e6e6" stroke-width="0.9" />
<line x1="548.0" y1="425.3" x2="548.0" y2="428.3" stroke="#e6e6e6" stroke-width="0.9" />
<line x1="551.0" y1="425.3" x2="551.0" y2="428.3" stroke="#e6e6e6" stroke-width="0.9" />
<line x1="554.0" y1="425.3" x2="554.0" y2="428.3" stroke="#e6e6e6" stroke-width="0.9" />
<line x1="557.0" y1="425.3" x2="557.0" y2="428.3" stroke="#e6e6e6" stroke-width="0.9" />
<line x1="560.0" y1="425.3" x2="560.0" y2="428.3" stroke="#e6e6e6" stroke-width="0.9" />
<line x1="563.0" y1="425.3" x2="563.0" y2="428.3" stroke="#e6e6e6" stroke-width="0.9" />
<line x1="566.0" y1="425.3" x2="566.0" y2="428.3" stroke="#e6e6e6" stroke-width="0.9" />
<line x1="569.0" y1="425.3" x2="569.0" y2="428.3" stroke="#e6e6e6" stroke-width="0.9" />
<line x1="572.0" y1="425.3" x2="572.0" y2="428.3" stroke="#e6e6e6" stroke-width="0.9" />
<line x1="575.0" y1="425.3" x2="575.0" y2="428.3" stroke="#e6e6e6" stroke-width="0.9" />
<line x1="578.0" y1="425.3" x2="578.0" y2="428.3" stroke="#e6e6e6" stroke-width="0.9" />
<line x1="581.0" y1="425.3" x2="581.0" y2="428.3" stroke="#e6e6e6" stroke-width="0.9" />
<line x1="584.0" y1="425.3" x2="584.0" y2="428.3" stroke="#e6e6e6" stroke-width="0.9" />
<line x1="587.0" y1="425.3" x2="587.0" y2="428.3" stroke="#e6e6e6" stroke-width="0.9" />
<rect x="593.0" y="418.0" width="13.0" height="22.0" fill="#f4f4f4" stroke="#333" stroke-width="0.8" />
<path d="M503,440 q-2,3 0,6" fill="none" stroke="#222" stroke-width="1" />
<rect x="565.0" y="403.5" width="241.0" height="5.5" fill="#ececec" stroke="none" stroke-width="1" />
<line x1="565.0" y1="405.0" x2="800.0" y2="405.0" stroke="#444" stroke-width="0.9" />
<line x1="575.0" y1="408.5" x2="640.0" y2="408.5" stroke="#333" stroke-width="1.1" />
<rect x="619.0" y="405.0" width="6.0" height="2.5" fill="#555" stroke="none" stroke-width="1" />
<rect x="649.0" y="405.0" width="6.0" height="2.5" fill="#555" stroke="none" stroke-width="1" />
<rect x="697.0" y="405.0" width="6.0" height="2.5" fill="#555" stroke="none" stroke-width="1" />
<rect x="735.0" y="405.0" width="6.0" height="2.5" fill="#555" stroke="none" stroke-width="1" />
<rect x="765.0" y="405.0" width="6.0" height="2.5" fill="#555" stroke="none" stroke-width="1" />
<rect x="785.0" y="405.0" width="6.0" height="2.5" fill="#555" stroke="none" stroke-width="1" />
<path d="M588,404 a8,8 0 0 1 14,-6 l6,6 z" fill="#e8e8e8" stroke="#222" stroke-width="0.9" />
<circle cx="597.0" cy="401.0" r="3.6" fill="#f6f6f6" stroke="#333" stroke-width="0.8" />
<polygon points="608.0,421.0 612.0,426.0 626.0,424.0 628.0,436.0 620.0,443.0 610.0,442.0 603.0,434.0" fill="#1d1d1d" stroke="none" stroke-width="1" />
<rect x="628.5" y="426.0" width="8.5" height="17.0" fill="#777" stroke="none" stroke-width="1" />
<rect x="592.0" y="440.0" width="44.0" height="7.0" fill="#ddd" stroke="#333" stroke-width="0.7" />
<rect x="570.0" y="445.5" width="67.0" height="21.0" fill="#f1f1f1" stroke="#333" stroke-width="0.8" />
<polygon points="575.0,451.0 590.0,449.0 598.0,452.0 596.0,460.0 588.0,463.5 576.0,462.0" fill="#1e1e1e" stroke="none" stroke-width="1" />
<rect x="608.0" y="432.0" width="18.0" height="8.0" fill="#555" stroke="none" stroke-width="1" />
<rect x="590.0" y="424.0" width="14.0" height="14.0" fill="#e2e2e2" stroke="#333" stroke-width="0.7" />
<line x1="623.0" y1="403.0" x2="623.0" y2="414.0" stroke="#333" stroke-width="1.5" />
<rect x="619.0" y="400.0" width="8.0" height="3.0" fill="#444" stroke="none" stroke-width="1" />
<rect x="637.5" y="425.0" width="21.5" height="41.0" fill="#f6f6f6" stroke="#333" stroke-width="0.8" />
<rect x="659.0" y="425.0" width="35.0" height="24.0" fill="#efefef" stroke="#555" stroke-width="0.7" />
<rect x="659.0" y="449.0" width="35.0" height="17.0" fill="#f4f4f4" stroke="#555" stroke-width="0.7" />
<circle cx="672.0" cy="455.0" r="1.6" fill="#ddd" stroke="#333" stroke-width="0.7" />
<circle cx="685.0" cy="462.0" r="1.6" fill="#ddd" stroke="#333" stroke-width="0.7" />
<circle cx="662.0" cy="462.0" r="1.6" fill="#ddd" stroke="#333" stroke-width="0.7" />
<circle cx="672.0" cy="467.5" r="1.6" fill="#ddd" stroke="#333" stroke-width="0.7" />
<rect x="695.0" y="425.0" width="40.0" height="41.0" fill="#2a2a2a" stroke="#111" stroke-width="0.8" />
<polygon points="696.0,440.0 712.0,436.0 722.0,448.0 722.0,462.0 700.0,462.0" fill="#4d4d4d" stroke="none" stroke-width="1" />
<rect x="712.0" y="428.0" width="15.0" height="19.0" fill="#dadada" stroke="#222" stroke-width="0.8" />
<circle cx="717.0" cy="437.0" r="3.0" fill="#eee" stroke="#222" stroke-width="0.7" />
<circle cx="723.0" cy="433.0" r="2.2" fill="#ccc" stroke="#222" stroke-width="0.7" />
<rect x="727.0" y="425.0" width="8.0" height="41.0" fill="#e6e6e6" stroke="none" stroke-width="1" />
<line x1="727.0" y1="425.0" x2="727.0" y2="466.0" stroke="#333" stroke-width="0.7" />
<circle cx="736.5" cy="464.0" r="1.8" fill="#222" stroke="none" stroke-width="1" />
<rect x="736.0" y="425.0" width="61.5" height="41.0" fill="#f0f0f0" stroke="#222" stroke-width="1" />
<polygon points="745.0,432.0 795.0,428.0 795.0,450.0 760.0,452.0" fill="#dedede" stroke="none" stroke-width="1" opacity=".7"/>
<polygon points="752.0,440.0 790.0,437.0 790.0,446.0 758.0,448.0" fill="#cfcfcf" stroke="none" stroke-width="1" opacity=".6"/>
<rect x="503.0" y="466.0" width="297.0" height="10.0" fill="#f3f3f3" stroke="none" stroke-width="1" />
<line x1="583.0" y1="466.0" x2="800.0" y2="466.0" stroke="#222" stroke-width="1.1" />
<line x1="625.0" y1="476.0" x2="790.0" y2="476.0" stroke="#333" stroke-width="0.9" />
<circle cx="651.0" cy="473.0" r="1.5" fill="#eee" stroke="#444" stroke-width="0.7" />
<circle cx="693.0" cy="473.0" r="1.5" fill="#eee" stroke="#444" stroke-width="0.7" />
<circle cx="755.0" cy="471.0" r="1.5" fill="#eee" stroke="#444" stroke-width="0.7" />
<circle cx="792.0" cy="473.0" r="1.5" fill="#eee" stroke="#444" stroke-width="0.7" />
<rect x="798.0" y="378.0" width="8.0" height="88.0" fill="#ededed" stroke="none" stroke-width="1" />
<polyline points="803.0,378.0 806.0,384.0 806.0,466.0 790.0,488.0" fill="none" stroke="#222" stroke-width="1.2" />
<line x1="799.5" y1="404.0" x2="799.5" y2="460.0" stroke="#555" stroke-width="0.8" />
<polyline points="800.0,455.0 800.0,466.0 786.0,484.0" fill="none" stroke="#555" stroke-width="0.8" />
<rect x="801.5" y="386.0" width="6.0" height="7.0" fill="#ccc" stroke="#222" stroke-width="0.8" />
<rect x="803.5" y="426.0" width="5.0" height="6.0" fill="#ccc" stroke="#222" stroke-width="0.8" />
<rect x="637.5" y="413.0" width="167.5" height="11.6" fill="#fbfbfb" stroke="#222" stroke-width="1" />
<circle cx="653.0" cy="420.5" r="1.0" fill="#555" stroke="none" stroke-width="1" />
<polygon points="808.0,415.5 847.5,415.5 849.0,416.5 852.7,418.0 852.7,420.0 849.0,421.4 847.5,422.4 808.0,422.4" fill="#f4f4f4" stroke="#222" stroke-width="1.1" />
<line x1="846.5" y1="415.5" x2="846.5" y2="422.4" stroke="#444" stroke-width="0.8" />
<circle cx="512.0" cy="463.0" r="1.4" fill="#ddd" stroke="#444" stroke-width="0.7" />
<circle cx="530.0" cy="456.0" r="1.4" fill="#ddd" stroke="#444" stroke-width="0.7" />
<circle cx="546.0" cy="462.0" r="1.4" fill="#ddd" stroke="#444" stroke-width="0.7" />
<circle cx="527.0" cy="471.0" r="1.4" fill="#ddd" stroke="#444" stroke-width="0.7" />
<circle cx="512.0" cy="476.0" r="1.4" fill="#ddd" stroke="#444" stroke-width="0.7" />
<line x1="503.0" y1="466.0" x2="583.0" y2="466.0" stroke="#555" stroke-width="0.8" />
<polygon points="600.0,474.0 798.0,476.0 795.0,492.0 724.0,562.0 700.0,540.0" fill="#f4f4f4" stroke="none" stroke-width="1" />
<clipPath id="cInter"><polygon points="600,474 800,476 795,492 724,562 690,540"/></clipPath>
<g clip-path="url(#cInter)"><g filter="url(#fBlur)">
<polygon points="650.0,488.0 755.0,500.0 748.0,530.0 722.0,548.0 690.0,522.0" fill="#a8a8a8" stroke="none" stroke-width="1" opacity=".6"/>
</g><g filter="url(#fBlur3)">
<path d="M636.0,488.0 C636.9,488.4 636.7,487.4 641.6,490.6 C646.5,493.8 658.0,501.2 665.6,507.0 C673.2,512.8 681.3,520.5 687.5,525.6 C693.7,530.7 698.0,534.9 702.8,537.7 C707.5,540.6 713.8,541.9 716.0,542.7 L722,541 L708,530 L694,514 L678.5,499.5 L678.5,488.4 Z" fill="#383838" stroke="none" stroke-width="1" />
<path d="M687.5,525.6 C690.0,527.6 698.0,534.9 702.8,537.7 C707.5,540.6 713.8,541.9 716.0,542.7 L724,540 L706,526 L694,514 Z" fill="#777" stroke="none" stroke-width="1" opacity=".6"/>
</g></g>
<rect x="678.5" y="480.5" width="75.0" height="18.5" fill="#fafafa" stroke="#222" stroke-width="0.9" />
<circle cx="690.5" cy="483.5" r="1.3" fill="#fff" stroke="#444" stroke-width="0.7" />
<circle cx="708.0" cy="483.5" r="1.3" fill="#fff" stroke="#444" stroke-width="0.7" />
<circle cx="723.5" cy="483.5" r="1.3" fill="#fff" stroke="#444" stroke-width="0.7" />
<circle cx="736.5" cy="483.5" r="1.3" fill="#fff" stroke="#444" stroke-width="0.7" />
<circle cx="745.0" cy="483.5" r="1.3" fill="#fff" stroke="#444" stroke-width="0.7" />
<circle cx="750.5" cy="483.5" r="1.3" fill="#fff" stroke="#444" stroke-width="0.7" />
<circle cx="688.0" cy="490.5" r="1.1" fill="none" stroke="#555" stroke-width="0.6" />
<circle cx="692.0" cy="490.5" r="1.1" fill="none" stroke="#555" stroke-width="0.6" />
<circle cx="696.0" cy="490.5" r="1.1" fill="none" stroke="#555" stroke-width="0.6" />
<circle cx="700.0" cy="490.5" r="1.1" fill="none" stroke="#555" stroke-width="0.6" />
<circle cx="704.0" cy="490.5" r="1.1" fill="none" stroke="#555" stroke-width="0.6" />
<circle cx="736.0" cy="490.5" r="0.9" fill="none" stroke="#555" stroke-width="0.6" />
<circle cx="739.5" cy="490.5" r="0.9" fill="none" stroke="#555" stroke-width="0.6" />
<circle cx="688.0" cy="496.5" r="1.1" fill="none" stroke="#555" stroke-width="0.6" />
<circle cx="692.0" cy="496.5" r="1.1" fill="none" stroke="#555" stroke-width="0.6" />
<circle cx="696.0" cy="496.5" r="1.1" fill="none" stroke="#555" stroke-width="0.6" />
<circle cx="700.0" cy="496.5" r="1.1" fill="none" stroke="#555" stroke-width="0.6" />
<circle cx="704.0" cy="496.5" r="1.1" fill="none" stroke="#555" stroke-width="0.6" />
<circle cx="736.0" cy="496.5" r="0.9" fill="none" stroke="#555" stroke-width="0.6" />
<circle cx="739.5" cy="496.5" r="0.9" fill="none" stroke="#555" stroke-width="0.6" />
<circle cx="753.0" cy="496.5" r="1.4" fill="#444" stroke="none" stroke-width="1" />
<rect x="758.0" y="475.5" width="18.0" height="13.5" fill="#eee" stroke="#222" stroke-width="0.9" />
<rect x="762.0" y="477.0" width="10.0" height="6.0" fill="#fafafa" stroke="#333" stroke-width="0.7" />
<rect x="776.0" y="480.0" width="10.0" height="5.0" fill="#ddd" stroke="#333" stroke-width="0.7" />
<clipPath id="cSheet"><path d="M557.7,464.7 C559.1,465.4 561.8,467.4 565.8,468.8 C569.8,470.2 576.3,471.9 582.0,472.8 C587.7,473.7 593.4,472.9 600.0,474.2 C606.6,475.5 615.0,478.1 621.9,480.8 C628.8,483.5 634.3,486.2 641.6,490.6 C648.9,495.0 658.0,501.2 665.6,507.0 C673.2,512.8 681.3,520.5 687.5,525.6 C693.7,530.7 698.0,534.9 702.8,537.7 C707.5,540.6 713.8,541.9 716.0,542.7 L724,556 L612,668 L600,680 L503,680 L503,467.4 L560,467.8 Z"/></clipPath>
<path d="M557.7,464.7 C559.1,465.4 561.8,467.4 565.8,468.8 C569.8,470.2 576.3,471.9 582.0,472.8 C587.7,473.7 593.4,472.9 600.0,474.2 C606.6,475.5 615.0,478.1 621.9,480.8 C628.8,483.5 634.3,486.2 641.6,490.6 C648.9,495.0 658.0,501.2 665.6,507.0 C673.2,512.8 681.3,520.5 687.5,525.6 C693.7,530.7 698.0,534.9 702.8,537.7 C707.5,540.6 713.8,541.9 716.0,542.7 L724,556 L612,668 L600,680 L503,680 L503,467.4 L560,467.8 Z" fill="url(#gSheet)" stroke="none" stroke-width="1" />
<g clip-path="url(#cSheet)"><g filter="url(#fBlur)">
<polygon points="495.0,460.0 575.0,460.0 590.0,560.0 560.0,690.0 495.0,690.0" fill="#fbfbfb" stroke="none" stroke-width="1" opacity=".8"/>
<line x1="520.0" y1="480.0" x2="526.0" y2="640.0" stroke="#e2e2e2" stroke-width="5" opacity="0.7"/>
<line x1="540.0" y1="480.0" x2="546.0" y2="640.0" stroke="#f6f6f6" stroke-width="5" opacity="0.7"/>
<line x1="557.0" y1="480.0" x2="563.0" y2="640.0" stroke="#dedede" stroke-width="5" opacity="0.6"/>
<line x1="574.0" y1="480.0" x2="580.0" y2="640.0" stroke="#ececec" stroke-width="5" opacity="0.5"/>
<polygon points="562.0,632.0 604.0,606.0 618.0,692.0 562.0,692.0" fill="#4a4a4a" stroke="none" stroke-width="1" opacity=".6"/>
<path d="M600.0,477.0 C603.6,478.0 615.0,480.3 621.9,483.0 C628.8,485.7 634.3,488.6 641.6,493.0 C648.9,497.4 658.0,503.7 665.6,509.5 C673.2,515.3 681.3,522.9 687.5,528.0 C693.7,533.1 700.2,538.0 702.8,540.0" fill="none" stroke="#fff" stroke-width="9" opacity=".8"/>
</g></g>
<path d="M557.7,464.7 C559.1,465.4 561.8,467.4 565.8,468.8 C569.8,470.2 576.3,471.9 582.0,472.8 C587.7,473.7 593.4,472.9 600.0,474.2 C606.6,475.5 615.0,478.1 621.9,480.8 C628.8,483.5 634.3,486.2 641.6,490.6 C648.9,495.0 658.0,501.2 665.6,507.0 C673.2,512.8 681.3,520.5 687.5,525.6 C693.7,530.7 698.0,534.9 702.8,537.7 C707.5,540.6 713.8,541.9 716.0,542.7 L724,556 L612,668 L600,680 L503,680 L503,467.4 L560,467.8 Z" fill="#000" filter="url(#fGrain)" opacity=".14"/>
<clipPath id="cLip"><path d="M500.8,439.5 C503.5,440.1 510.7,441.1 517.0,443.0 C523.3,444.9 532.0,447.4 538.8,451.0 C545.6,454.6 553.2,461.7 557.7,464.7 C562.2,467.7 564.4,468.1 565.8,468.8 L568.5,468.8 L568.5,443.8 L503,441.2 Z"/></clipPath>
<path d="M500.8,439.5 C503.5,440.1 510.7,441.1 517.0,443.0 C523.3,444.9 532.0,447.4 538.8,451.0 C545.6,454.6 553.2,461.7 557.7,464.7 C562.2,467.7 564.4,468.1 565.8,468.8 L568.5,468.8 L568.5,443.8 L503,441.2 Z" fill="#bcbcbc" stroke="none" stroke-width="1" />
<g clip-path="url(#cLip)">
<path d="M503.0,443.0 C505.3,443.5 511.0,444.2 517.0,446.0 C523.0,447.8 532.0,450.4 538.8,454.0 C545.6,457.6 553.2,464.7 557.7,467.5 C562.2,470.3 564.6,470.4 566.0,471.0" fill="none" stroke="#6a6a6a" stroke-width="7" opacity=".75" filter="url(#fBlur3)"/>
<rect x="560.0" y="443.0" width="9.0" height="27.0" fill="#8a8a8a" stroke="none" stroke-width="1" opacity=".6"/>
</g>
<line x1="568.5" y1="443.8" x2="568.5" y2="468.8" stroke="#333" stroke-width="0.9" />
<path d="M500.8,439.5 C503.5,440.1 510.7,441.1 517.0,443.0 C523.3,444.9 532.0,447.4 538.8,451.0 C545.6,454.6 553.2,461.7 557.7,464.7 C562.2,467.7 561.8,467.4 565.8,468.8 C569.8,470.2 576.3,471.9 582.0,472.8 C587.7,473.7 593.4,472.9 600.0,474.2 C606.6,475.5 615.0,478.1 621.9,480.8 C628.8,483.5 634.3,486.2 641.6,490.6 C648.9,495.0 658.0,501.2 665.6,507.0 C673.2,512.8 681.3,520.5 687.5,525.6 C693.7,530.7 698.0,534.9 702.8,537.7 C707.5,540.6 713.8,541.9 716.0,542.7" fill="none" stroke="#161616" stroke-width="1.7" />
<path d="M716.0,542.7 C717.3,542.7 721.8,542.9 724.0,542.6 C726.2,542.4 727.4,542.2 729.0,541.2 C730.6,540.2 732.8,537.3 733.5,536.5" fill="none" stroke="#222" stroke-width="1.3" />
<line x1="503.0" y1="467.6" x2="560.0" y2="467.8" stroke="#333" stroke-width="0.9" />
<path d="M512.4,470.9 a1.6,1.6 0 0 1 0,3.2" fill="none" stroke="#555" stroke-width="0.8" />
<path d="M530.4,474.9 a1.6,1.6 0 0 1 0,3.2" fill="none" stroke="#555" stroke-width="0.8" />
<path d="M548.4,471.4 a1.6,1.6 0 0 1 0,3.2" fill="none" stroke="#555" stroke-width="0.8" />
<path d="M567.4,475.4 a1.6,1.6 0 0 1 0,3.2" fill="none" stroke="#555" stroke-width="0.8" />
<path d="M594.4,476.4 a1.6,1.6 0 0 1 0,3.2" fill="none" stroke="#555" stroke-width="0.8" />
<polygon points="788.5,487.5 795.8,492.8 689.5,600.5 679.0,600.5 680.5,596.0" fill="#f1f1f1" stroke="#1c1c1c" stroke-width="1.1" />
<line x1="792.5" y1="490.5" x2="684.5" y2="599.0" stroke="#555" stroke-width="0.8" />
<line x1="790.3" y1="489.0" x2="682.0" y2="597.5" stroke="#aaa" stroke-width="0.6" />
<polygon points="679.0,596.0 688.0,594.5 690.0,600.5 679.0,600.5" fill="#d8d8d8" stroke="#222" stroke-width="0.8" />
<polyline points="789.0,487.8 600.0,678.0" fill="none" stroke="#222" stroke-width="1.1" />
<polygon points="636.0,638.0 639.0,641.0 621.5,658.5 618.5,655.5" fill="#f6f6f6" stroke="#222" stroke-width="0.8" />
<circle cx="779.8" cy="511.3" r="0.9" fill="#333" stroke="none" stroke-width="1" />
<circle cx="753.5" cy="537.7" r="0.9" fill="#333" stroke="none" stroke-width="1" />
<circle cx="730.4" cy="560.9" r="0.9" fill="#333" stroke="none" stroke-width="1" />
<circle cx="706.2" cy="585.2" r="0.9" fill="#333" stroke="none" stroke-width="1" />
<circle cx="731.3" cy="530.4" r="4.6" fill="#f4f4f4" stroke="#2a2a2a" stroke-width="1" />
<circle cx="742.0" cy="525.6" r="2.0" fill="#eee" stroke="#333" stroke-width="0.8" />
<line x1="217.5" y1="688.7" x2="375.0" y2="687.5" stroke="#555" stroke-width="0.9" />
<line x1="300.0" y1="688.2" x2="375.0" y2="686.4" stroke="#666" stroke-width="0.8" />
<line x1="217.6" y1="673.0" x2="217.6" y2="688.0" stroke="#333" stroke-width="0.9" stroke-dasharray="3 1.5"/>
<rect x="375.0" y="683.0" width="6.5" height="10.5" fill="#ddd" stroke="#222" stroke-width="0.9" />
<rect x="381.5" y="684.5" width="8.5" height="7.5" fill="#d8d8d8" stroke="#222" stroke-width="0.9" />
<rect x="390.0" y="682.5" width="11.0" height="11.5" fill="#a8a8a8" stroke="#222" stroke-width="0.9" />
<line x1="392.5" y1="683.0" x2="392.5" y2="694.0" stroke="#555" stroke-width="0.6" />
<line x1="395.0" y1="683.0" x2="395.0" y2="694.0" stroke="#555" stroke-width="0.6" />
<line x1="397.5" y1="683.0" x2="397.5" y2="694.0" stroke="#555" stroke-width="0.6" />
<rect x="402.5" y="679.0" width="100.5" height="18.3" fill="#5e5e5e" stroke="#1c1c1c" stroke-width="1.2" />
<polygon points="402.5,679.0 418.0,679.0 424.0,697.0 402.5,697.0" fill="#e8e8e8" stroke="#222" stroke-width="0.8" />
<rect x="470.0" y="680.0" width="33.0" height="16.5" fill="#d0d0d0" stroke="none" stroke-width="1" />
<ellipse cx="424.0" cy="688.5" rx="5.0" ry="6.2" fill="#2e2e2e" stroke="#111" stroke-width="1" />
<ellipse cx="425.2" cy="688.5" rx="3.3" ry="5.0" fill="#777" stroke="none" stroke-width="1" />
<ellipse cx="443.0" cy="688.5" rx="5.0" ry="6.2" fill="#2e2e2e" stroke="#111" stroke-width="1" />
<ellipse cx="444.2" cy="688.5" rx="3.3" ry="5.0" fill="#777" stroke="none" stroke-width="1" />
<ellipse cx="465.0" cy="688.5" rx="5.0" ry="6.2" fill="#2e2e2e" stroke="#111" stroke-width="1" />
<ellipse cx="466.2" cy="688.5" rx="3.3" ry="5.0" fill="#777" stroke="none" stroke-width="1" />
<line x1="402.5" y1="679.0" x2="503.0" y2="679.0" stroke="#1c1c1c" stroke-width="1.4" />
<rect x="503.0" y="679.0" width="49.0" height="18.3" fill="#efefef" stroke="#222" stroke-width="1" />
<rect x="430.0" y="697.3" width="142.0" height="3.2" fill="#e2e2e2" stroke="#222" stroke-width="0.8" />
<rect x="437.5" y="700.5" width="127.5" height="59.5" fill="url(#gStage)" stroke="#1c1c1c" stroke-width="1.2" />
<rect x="437.5" y="700.5" width="127.5" height="59.5" fill="#000" filter="url(#fGrain)" opacity=".22"/>
<line x1="437.5" y1="711.0" x2="565.0" y2="711.0" stroke="#777" stroke-width="0.8" />
<rect x="427.0" y="707.5" width="8.0" height="8.5" fill="#e8e8e8" stroke="#222" stroke-width="0.9" />
<circle cx="427.0" cy="711.7" r="2.3" fill="#eee" stroke="#222" stroke-width="0.8" />
<rect x="563.0" y="707.5" width="8.0" height="8.5" fill="#e8e8e8" stroke="#222" stroke-width="0.9" />
<circle cx="563.0" cy="711.7" r="2.3" fill="#eee" stroke="#222" stroke-width="0.8" />
<rect x="455.0" y="706.5" width="23.0" height="11.0" fill="#e4e4e4" stroke="#222" stroke-width="0.9" />
<ellipse cx="463.5" cy="712.0" rx="4.0" ry="2.6" fill="#fff" stroke="#222" stroke-width="0.8" />
<ellipse cx="468.0" cy="712.0" rx="3.0" ry="2.2" fill="#ddd" stroke="#222" stroke-width="0.7" />
<rect x="520.0" y="706.5" width="25.0" height="11.0" fill="#e4e4e4" stroke="#222" stroke-width="0.9" />
<circle cx="535.0" cy="712.0" r="3.2" fill="#fafafa" stroke="#444" stroke-width="0.8" />
<polygon points="426.0,759.6 575.6,759.6 575.6,778.0 566.0,778.0 566.0,790.0 435.0,790.0 435.0,778.0 426.0,778.0" fill="#8b8b8b" stroke="#1c1c1c" stroke-width="1.2" />
<rect x="426.0" y="759.6" width="149.6" height="4.4" fill="#ececec" stroke="#1c1c1c" stroke-width="1" />
<line x1="430.0" y1="766.0" x2="572.0" y2="766.0" stroke="#333" stroke-width="1.2" />
<rect x="503.0" y="766.5" width="63.0" height="23.5" fill="#7a7a7a" stroke="none" stroke-width="1" />
<rect x="427" y="765" width="148" height="13" fill="#000" filter="url(#fGrain)" opacity=".22"/>
<rect x="436" y="778" width="130" height="11" fill="#000" filter="url(#fGrain)" opacity=".22"/>
<path d="M436,789 Q450,780 503,779 L503,795 Q465,797 436,789 Z" fill="#d4d4d4" stroke="#222" stroke-width="0.9" />
<path d="M503,783 Q530,784 545,790 Q556,794 566,790 L566,796 L503,797 Z" fill="#fff" stroke="none" stroke-width="1" />
<path d="M503,783 Q530,784 545,790 Q556,794 566,790" fill="none" stroke="#222" stroke-width="1.1" />
<path d="M436,789 Q465,797 503,795" fill="none" stroke="#222" stroke-width="1.1" />
<path d="M504.4,679.0 C504.4,677.7 504.3,676.7 504.4,671.0 C504.5,665.3 503.9,651.0 505.0,645.0 C506.1,639.0 508.8,636.9 511.3,635.0 C513.8,633.1 514.4,632.6 520.0,633.8 C525.6,634.9 538.8,639.2 545.0,641.9 C551.2,644.6 554.4,647.0 557.5,650.0 C560.6,653.0 562.3,656.2 563.8,660.0 C565.3,663.8 565.5,669.3 566.3,672.5 C567.1,675.7 568.4,677.9 568.8,679.0 Z" fill="#fafafa" stroke="#161616" stroke-width="1.6" />
<path d="M511.3,672.0 C510.6,669.6 507.3,661.8 506.9,657.5 C506.5,653.2 507.0,649.0 508.8,646.3 C510.6,643.6 513.5,641.6 517.5,641.3 C521.5,641.0 526.9,642.8 532.5,644.4 C538.1,646.0 546.7,648.2 551.3,650.6 C555.9,653.0 558.1,655.2 560.0,658.8 C561.9,662.4 562.1,669.8 562.5,672.0" fill="none" stroke="#222" stroke-width="1.3" />
<line x1="564.4" y1="612.0" x2="564.4" y2="652.0" stroke="#666" stroke-width="0.8" />
<rect x="505.0" y="672.0" width="60.0" height="7.0" fill="#e2e2e2" stroke="#222" stroke-width="0.8" />
<path d="M515,670 L515,660 Q515,653 523,653 L536,653 L538,657 L538,664 L526,666 L526,670 Z" fill="#dcdcdc" stroke="#1a1a1a" stroke-width="1.1" />
<rect x="522.0" y="656.0" width="8.0" height="8.0" fill="#555" stroke="none" stroke-width="1" />
<rect x="530.0" y="655.0" width="7.0" height="8.0" fill="#bbb" stroke="#222" stroke-width="0.6" />
<polygon points="552.0,678.5 602.0,678.5 600.5,684.0 599.0,696.5 578.0,696.5 566.0,693.0 556.0,692.0" fill="#f0f0f0" stroke="#1a1a1a" stroke-width="1.1" />
<line x1="554.0" y1="682.5" x2="601.0" y2="682.5" stroke="#555" stroke-width="0.7" />
<circle cx="566.2" cy="687.6" r="4.8" fill="#262626" stroke="#111" stroke-width="0.9" />
<circle cx="567.2" cy="688.3" r="2.2" fill="#5a5a5a" stroke="none" stroke-width="1" />
<polygon points="576.0,685.0 592.0,684.0 581.0,695.0" fill="#4a4a4a" stroke="#111" stroke-width="0.8" />
<polygon points="593.0,685.0 598.0,685.0 597.0,694.0 589.0,694.0" fill="#bbb" stroke="#222" stroke-width="0.6" />
<polygon points="543.0,697.0 568.0,697.0 566.0,702.0 548.0,701.0" fill="#444" stroke="none" stroke-width="1" />
<polygon points="517.0,677.0 534.0,673.0 551.0,693.0 545.0,698.0 530.0,690.0" fill="#2d2d2d" stroke="#111" stroke-width="0.8" />
<path d="M508,686 q8,-4 14,0 l0,10 q-5,4 -3,20 l-2,8 q-10,2 -14,-4 l0,-30 z" fill="#d8d8d8" stroke="#1a1a1a" stroke-width="1.1" />
<rect x="509.0" y="688.0" width="7.0" height="16.0" fill="#666" stroke="none" stroke-width="1" />
<rect x="516.0" y="690.0" width="4.0" height="13.0" fill="#eee" stroke="#333" stroke-width="0.6" />
<line x1="503.0" y1="697.3" x2="575.0" y2="697.3" stroke="#222" stroke-width="1.1" />
<rect x="601.0" y="683.0" width="3.0" height="10.0" fill="#ddd" stroke="#222" stroke-width="0.7" />
<rect x="604.0" y="682.0" width="18.0" height="12.0" fill="#6f6f6f" stroke="#1a1a1a" stroke-width="1" />
<line x1="608.0" y1="682.5" x2="608.0" y2="693.5" stroke="#333" stroke-width="0.7" />
<line x1="612.0" y1="682.5" x2="612.0" y2="693.5" stroke="#333" stroke-width="0.7" />
<line x1="616.0" y1="682.5" x2="616.0" y2="693.5" stroke="#333" stroke-width="0.7" />
<rect x="622.0" y="685.5" width="3.5" height="5.0" fill="#ccc" stroke="#222" stroke-width="0.7" />
<rect x="625.5" y="686.5" width="19.5" height="2.5" fill="#f2f2f2" stroke="#444" stroke-width="0.6" />
<line x1="645.0" y1="687.7" x2="783.0" y2="687.7" stroke="#444" stroke-width="0.9" />
<line x1="783.0" y1="665.0" x2="783.0" y2="687.0" stroke="#333" stroke-width="0.9" stroke-dasharray="3 1.5"/>
<circle cx="782.0" cy="687.0" r="1.4" fill="none" stroke="#333" stroke-width="0.7" />
<line x1="502.7" y1="106.0" x2="502.7" y2="794.5" stroke="#2a2a2a" stroke-width="1.1" />
<line x1="504.2" y1="152.0" x2="504.2" y2="610.0" stroke="#888" stroke-width="0.6" />
<rect x="217.0" y="703.0" width="122.5" height="3.4" fill="#fff" stroke="#333" stroke-width="0.7" />
<rect x="217.0" y="703.0" width="20.4" height="3.4" fill="#2a2a2a" stroke="none" stroke-width="1" />
<rect x="257.8" y="703.0" width="20.4" height="3.4" fill="#2a2a2a" stroke="none" stroke-width="1" />
<rect x="298.7" y="703.0" width="20.4" height="3.4" fill="#2a2a2a" stroke="none" stroke-width="1" />
<text x="217.0" y="712.5" font-size="4.6" text-anchor="middle" stroke="none">0</text>
<text x="237.4" y="712.5" font-size="4.6" text-anchor="middle" stroke="none">1</text>
<text x="257.8" y="712.5" font-size="4.6" text-anchor="middle" stroke="none">2</text>
<text x="278.3" y="712.5" font-size="4.6" text-anchor="middle" stroke="none">3</text>
<text x="298.7" y="712.5" font-size="4.6" text-anchor="middle" stroke="none">4</text>
<text x="319.1" y="712.5" font-size="4.6" text-anchor="middle" stroke="none">5</text>
<text x="339.5" y="712.5" font-size="4.6" text-anchor="middle" stroke="none">6</text>
<text x="344" y="712.3" font-size="4.6" stroke="none" textLength="17" lengthAdjust="spacingAndGlyphs">INCHES</text>
<text x="584" y="781" font-size="4" stroke="none" textLength="16" lengthAdjust="spacingAndGlyphs">M.BUNK</text>
<text x="584" y="786.3" font-size="5" stroke="none" style="font-weight:400" textLength="25" lengthAdjust="spacingAndGlyphs">12, JUNE 59</text>
<polyline points="333.5,153.5 371.5,153.5 466.0,189.5 516.0,177.0" fill="none" stroke="#161616" stroke-width="1.25" />
<polyline points="299.0,187.5 344.0,187.5 370.0,198.7" fill="none" stroke="#161616" stroke-width="1.25" />
<polyline points="243.0,249.3 277.0,249.3 519.0,341.5" fill="none" stroke="#161616" stroke-width="1.25" />
<polyline points="202.0,304.6 247.5,304.6 547.5,411.0" fill="none" stroke="#161616" stroke-width="1.25" />
<polyline points="175.0,340.0 245.0,340.0 465.0,415.0" fill="none" stroke="#161616" stroke-width="1.25" />
<polyline points="129.0,446.8 166.0,446.8 181.0,424.0" fill="none" stroke="#161616" stroke-width="1.25" />
<polyline points="158.0,554.4 187.0,554.4 232.0,457.0" fill="none" stroke="#161616" stroke-width="1.25" />
<polyline points="196.0,605.0 210.0,605.0 254.0,508.0" fill="none" stroke="#161616" stroke-width="1.25" />
<polyline points="653.0,65.3 630.0,65.3 567.0,129.0" fill="none" stroke="#161616" stroke-width="1.25" />
<polyline points="713.0,129.0 689.0,129.0 625.0,192.0" fill="none" stroke="#161616" stroke-width="1.25" />
<polyline points="712.0,185.0 685.0,185.0 540.0,328.0" fill="none" stroke="#161616" stroke-width="1.25" />
<polyline points="759.0,245.0 745.0,245.0 588.0,400.0" fill="none" stroke="#161616" stroke-width="1.25" />
<polyline points="778.0,290.0 700.0,364.0 764.0,450.0" fill="none" stroke="#161616" stroke-width="1.25" />
<polyline points="785.0,642.0 767.0,642.0 696.0,685.5" fill="none" stroke="#161616" stroke-width="1.25" />
<polyline points="699.0,717.5 641.0,717.5 575.0,702.0" fill="none" stroke="#161616" stroke-width="1.25" />
<polyline points="699.0,737.5 658.5,737.5 562.0,772.0" fill="none" stroke="#161616" stroke-width="1.25" />
<text y="153.5" font-size="14" lengthAdjust="spacingAndGlyphs"><tspan x="191.9" textLength="30.3">Long</tspan> <tspan x="230.9" textLength="56.7">Duration</tspan> <tspan x="295.5" textLength="37.5">Timer</tspan></text>
<text y="187.5" font-size="14" lengthAdjust="spacingAndGlyphs"><tspan x="195.6" textLength="36.6">X-ray</tspan> <tspan x="241.9" textLength="55.0">Detector</tspan></text>
<text y="250.2" font-size="14" lengthAdjust="spacingAndGlyphs"><tspan x="80.0" textLength="66.7">Instrument</tspan> <tspan x="152.7" textLength="87.3">Compartment</tspan></text>
<text y="306.5" font-size="14" lengthAdjust="spacingAndGlyphs"><tspan x="61.0" textLength="16.3">20</tspan> <tspan x="83.3" textLength="16.7" font-size="13.5">mc</tspan> <tspan x="107.3" textLength="52.0">Antenna</tspan> <tspan x="166.7" textLength="34.3">Spool</tspan></text>
<text y="328.3" font-size="13.5" lengthAdjust="spacingAndGlyphs"><tspan x="74.0" textLength="101.0">Micro-meteorite</tspan></text>
<text y="340.3" font-size="13.5" lengthAdjust="spacingAndGlyphs"><tspan x="104.3" textLength="70.7">Experiment</tspan></text>
<text y="447.3" font-size="14" lengthAdjust="spacingAndGlyphs"><tspan x="11.0" textLength="17.3">20</tspan> <tspan x="31.7" textLength="18.3" font-size="13">mc</tspan> <tspan x="63.3" textLength="65.0">ANTENNA</tspan></text>
<text y="539.8" font-size="14" lengthAdjust="spacingAndGlyphs"><tspan x="21.7" textLength="73.3">RADIATION</tspan> <tspan x="99.3" textLength="22.4" font-size="13">and</tspan> <tspan x="125.0" textLength="31.7">HEAT</tspan></text>
<text y="554.0" font-size="14" lengthAdjust="spacingAndGlyphs"><tspan x="25.0" textLength="60.0">BALANCE</tspan> <tspan x="94.3" textLength="63.0">DETECTOR</tspan></text>
<text y="568.8" font-size="13" lengthAdjust="spacingAndGlyphs"><tspan x="82.7" textLength="20.6">(Dr.</tspan> <tspan x="114.3" textLength="34.0">Suomi</tspan><tspan x="152.7" textLength="3.3">)</tspan></text>
<text y="604.9" font-size="14" lengthAdjust="spacingAndGlyphs"><tspan x="106.7" textLength="41.6">SOLAR</tspan> <tspan x="158.3" textLength="36.0">CELLS</tspan></text>
<text y="64.3" font-size="15" lengthAdjust="spacingAndGlyphs"><tspan x="653.3" textLength="56.7">COSMIC</tspan> <tspan x="720.0" textLength="28.3">RAY</tspan> <tspan x="756.7" textLength="68.3">DETECTOR</tspan></text>
<text y="77.9" font-size="13.5" lengthAdjust="spacingAndGlyphs"><tspan x="653.3" textLength="26.0">(Dr.</tspan> <tspan x="688.3" textLength="22.7">Van</tspan> <tspan x="725.7" textLength="39.3">Allen)</tspan></text>
<text y="126.7" font-size="15" lengthAdjust="spacingAndGlyphs"><tspan x="713.3" textLength="46.7">LYMAN</tspan> <tspan x="771.0" textLength="44.7">ALPHA</tspan> <tspan x="825.0" textLength="67.7">DETECTOR</tspan></text>
<text y="140.0" font-size="13.5" lengthAdjust="spacingAndGlyphs"><tspan x="713.3" textLength="23.4">(Dr.</tspan> <tspan x="742.7" textLength="65.6">Friedman)</tspan></text>
<text y="182.5" font-size="15" lengthAdjust="spacingAndGlyphs"><tspan x="712.7" textLength="44.6">HEAVY</tspan> <tspan x="767.7" textLength="48.3">NUCLEI</tspan> <tspan x="825.0" textLength="67.7">CHAMBER</tspan></text>
<text y="195.7" font-size="13.5" lengthAdjust="spacingAndGlyphs"><tspan x="711.7" textLength="3.8">(</tspan><tspan x="720.0" textLength="16.7">Dr.</tspan> <tspan x="740.7" textLength="81.0">Groetzinger)</tspan></text>
<text y="241.7" font-size="14.5" lengthAdjust="spacingAndGlyphs"><tspan x="759.3" textLength="15.7">20</tspan> <tspan x="777.3" textLength="16.7" font-size="13.5">mc</tspan> <tspan x="796.7" textLength="65.0">ANTENNA</tspan></text>
<text y="255.7" font-size="14.5" lengthAdjust="spacingAndGlyphs"><tspan x="759.3" textLength="54.0">RELEASE</tspan> <tspan x="816.7" textLength="46.6">MOTOR</tspan></text>
<text y="295.0" font-size="14.5" lengthAdjust="spacingAndGlyphs"><tspan x="778.3" textLength="56.7">BATTERY</tspan> <tspan x="837.3" textLength="26.7">BOX</tspan></text>
<text y="638.8" font-size="14" lengthAdjust="spacingAndGlyphs"><tspan x="785.0" textLength="18.0">108</tspan><tspan x="804.0" textLength="18.5" font-size="13.5">mc</tspan> <tspan x="824.6" textLength="61.2">ANTENNA</tspan></text>
<text y="653.3" font-size="14" lengthAdjust="spacingAndGlyphs"><tspan x="790.0" textLength="45.8">(LOOP)</tspan></text>
<text y="717.5" font-size="14.5" lengthAdjust="spacingAndGlyphs"><tspan x="699.6" textLength="79.2">SEPARATION</tspan> <tspan x="788.0" textLength="45.8">DEVICE</tspan></text>
<text y="743.8" font-size="14.5" lengthAdjust="spacingAndGlyphs"><tspan x="699.6" textLength="8.4">4</tspan><tspan x="708.6" textLength="11.0" font-size="12">th</tspan> <tspan x="723.3" textLength="40.9">STAGE</tspan></text>
</svg></body></html>
